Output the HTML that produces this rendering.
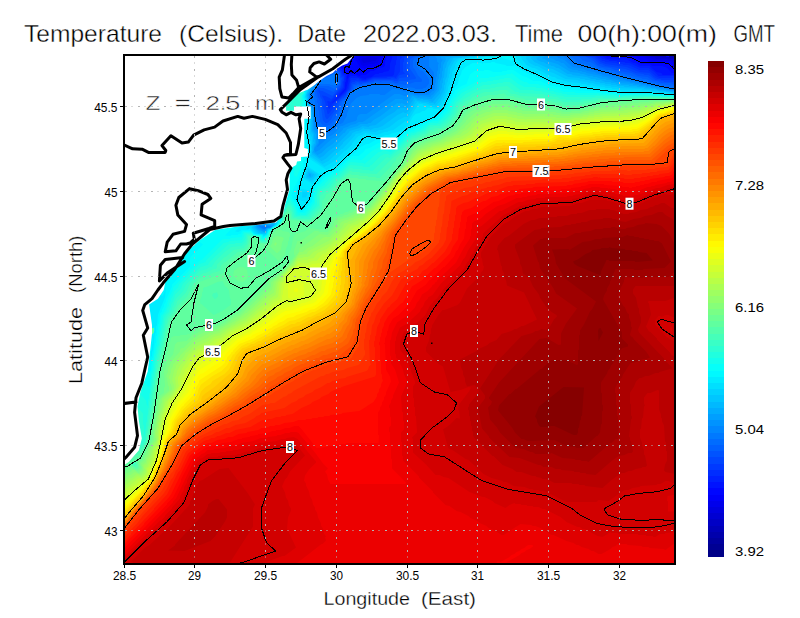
<!DOCTYPE html><html><head><meta charset="utf-8"><style>html,body{margin:0;padding:0;background:#fff}svg{display:block}</style></head><body><svg width="800" height="618" viewBox="0 0 800 618" font-family="Liberation Sans, sans-serif"><rect width="800" height="618" fill="#fff"/><defs><clipPath id="pc"><rect x="125" y="56" width="549" height="507"/></clipPath></defs><g clip-path="url(#pc)"><rect x="123" y="53" width="554" height="513" fill="#0000b9"/><path fill="#0000c6" d="M676.5 566 123.5 566 123 53.5 667.5 53 669.5 58 675.5 58 676 62.5 677 63.5 676.5 566Z"/><path fill="#0000d2" d="M676.5 566 123.5 566 123 53.5 651.5 53 653.5 56 661.5 57 662.5 58 667.5 58 668.5 59 673.5 59 677 63.5 676.5 566ZM668.5 57 666 56.5 667.5 55 669 56.5 668.5 57Z"/><path fill="#0000df" d="M676.5 566 123.5 566 123 53.5 339.5 53 342.5 57 350.5 58 353 55.5 351 53.5 351.5 53 361.5 53 361.5 55 378.5 55 379.5 53 651.5 53 653 55.5 650.5 56 650.5 57 654.5 57 656.5 59 666.5 59 667.5 60 672.5 60 676.5 63 676.5 566ZM668.5 57 666 56.5 667.5 55 669 56.5 668.5 57ZM374 58.5 371 58.5 374 58.5ZM369 59.5 366 59.5 369 59.5Z"/><path fill="#0000ec" d="M676.5 566 123.5 566 123 53.5 339.5 53 342.5 57 349.5 58 350.5 59 353 55.5 351 53.5 351.5 53 361.5 53 361.5 55 378.5 55 379.5 53 651.5 53 653 54.5 652.5 56 643 56.5 648.5 57 654.5 60 665.5 60 666.5 61 671.5 61 675.5 65 676.5 63 676.5 566ZM668.5 57 666 56.5 667.5 55 669 56.5 668.5 57ZM366 62.5 370.5 62 371.5 61 375.5 61 378 57.5 366.5 57 365.5 58 362.5 58 361 59.5 363.5 63 366 62.5Z"/><path fill="#0000f9" d="M676.5 566 123.5 566 123 53.5 339.5 53 342.5 57 349.5 58 349.5 60 352 58.5 352 56.5 353 55.5 351 53.5 351.5 53 361.5 53 361.5 55 378.5 55 379.5 53 651.5 53 653 54.5 652.5 56 637 56.5 643.5 57 652.5 61 664.5 61 665.5 62 670.5 62 675.5 68 676.5 63 676.5 566ZM624 55.5 623 55.5 624 55.5ZM668.5 57 666 56.5 667.5 55 669 56.5 668.5 57ZM366 65.5 369.5 64 374.5 64 375.5 63 377.5 63 381 56.5 361.5 56 359.5 57 358 59.5 360 61.5 361 64.5 363.5 66 366 65.5ZM348 60.5 347 60.5 348 60.5Z"/><path fill="#0006ff" d="M676.5 566 123.5 566 123 53.5 339.5 53 342.5 57 350 58.5 347.5 60 345 62.5 345.5 63 352 59.5 353 57.5 352 56.5 353 55.5 351 53.5 351.5 53 361.5 53 362 53.5 360.5 55 355.5 56 355 58.5 360 67.5 363.5 68 364.5 69 367.5 67 374.5 67 378.5 65 381 62.5 384 55.5 379.5 55 379.5 53 635.5 53 635.5 56 628 56.5 635.5 57 640.5 60 646.5 60 649.5 62 663.5 62 664.5 63 668.5 63 670.5 64 675.5 70 676.5 63 676.5 566ZM652.5 56 647 55.5 648.5 53 651.5 53 653 54.5 652.5 56ZM624 55.5 616 55.5 624 55.5ZM668.5 57 666 56.5 667.5 55 669 56.5 668.5 57ZM344 63.5 343 63.5 344 63.5Z"/><path fill="#0013ff" d="M676.5 566 123.5 566 123 53.5 315.5 53 323.5 63 333.5 68 336.5 68 338.5 66 340.5 67 344 70.5 344 72.5 348 74.5 347 76.5 347.5 79 349.5 74 354.5 74 359.5 76 361.5 75 365.5 75 370.5 71 373.5 71 378.5 68 383.5 67 385 65.5 385 61.5 387 56.5 388.5 55 391.5 55 392.5 53 596.5 53 598.5 55 604.5 55 607.5 57 628.5 58 634.5 61 636.5 61 641.5 64 649.5 64 652.5 66 662.5 66 667.5 68 671.5 73 675.5 73 676 80.5 677 81.5 676.5 566ZM345.5 62 345.5 61 345.5 62ZM344.5 63 344.5 62 344.5 63ZM341.5 65 341.5 64 341.5 65ZM340.5 66 340.5 65 340.5 66Z"/><path fill="#0020ff" d="M676.5 566 123.5 566 123 53.5 315.5 53 323.5 63 333.5 68 336.5 68 337.5 67 338.5 68 339.5 67 343 70.5 343 72.5 347 75.5 346 76.5 346 81.5 345 82.5 345 88.5 340 94.5 340.5 95 346 89.5 349 77.5 350.5 76 356.5 76 357.5 77 365.5 79 366.5 78 371.5 77 375.5 74 378.5 74 379.5 73 382.5 73 383.5 72 388.5 71 390 68.5 390 63.5 392 58.5 392.5 53 596.5 53 598.5 55 600.5 55 607.5 59 627.5 60 633.5 63 635.5 63 640.5 66 649.5 66 656.5 72 661.5 73 662.5 75 675.5 75 676 80.5 677 81.5 676.5 566ZM345.5 62 345.5 61 345.5 62ZM341.5 65 341.5 64 341.5 65ZM338.5 67 338.5 66 338.5 67Z"/><path fill="#002dff" d="M676.5 566 123.5 566 123 53.5 315.5 53 323.5 63 333.5 68 335.5 68 335.5 70 338.5 68 342 71.5 343 74.5 345 75.5 344 87.5 336 98.5 332 102.5 332.5 103 346 91.5 348 87.5 350.5 78 358.5 78 362.5 80 365.5 80 373.5 77 392.5 76 394 74.5 395 65.5 396 64.5 396 60.5 397 59.5 397 55.5 392.5 55 392.5 53 596.5 53 598 54.5 596.5 55 596.5 56 599.5 56 602.5 59 604.5 59 605.5 60 608.5 60 609.5 61 616.5 61 617.5 62 624.5 62 625.5 63 629.5 63 640.5 68 648.5 68 654.5 72 658.5 76 673.5 76 675.5 77 676 80.5 677 81.5 676.5 566ZM341.5 65 341.5 64 341.5 65ZM338.5 67 338.5 66 338.5 67ZM337.5 68 337.5 67 337.5 68Z"/><path fill="#0039ff" d="M676.5 566 123.5 566 123 53.5 315.5 53 323.5 63 333.5 68 335.5 68 336 68.5 333.5 70 333.5 71 338.5 69 341 71.5 342 75.5 344 76.5 344 80.5 343 81.5 343 86.5 342 88.5 330.5 102 328.5 101 327 101.5 328 103.5 328 107.5 329.5 109 332 104.5 346 92.5 349 88.5 350 82.5 351.5 80 355.5 80 357.5 79 361.5 81 365.5 81 373.5 78 386.5 78 387.5 77 394.5 77 395.5 78 400 71.5 400 59.5 402 57.5 401 55.5 408.5 55 409.5 53 596.5 53 598 54.5 597.5 55 591 55.5 595.5 56 602.5 61 604.5 61 605.5 62 616.5 63 617.5 64 622.5 64 623.5 65 628.5 65 639.5 70 648.5 70 655.5 76 659.5 78 673.5 78 675.5 79 677 81.5 676.5 566ZM338.5 67 338.5 66 338.5 67Z"/><path fill="#0046ff" d="M676.5 566 123.5 566 123 53.5 315.5 53 323.5 63 336 68.5 333.5 70 331 72.5 331.5 73 336.5 70 338.5 70 341 73.5 341 76.5 343 77.5 341 87.5 331.5 99 325.5 96 322 95.5 325 101.5 327.5 114 328.5 114 333 108.5 334 104.5 344.5 95 345.5 95 347 91.5 350 89.5 351 83.5 352.5 82 354.5 82 355.5 81 365.5 82 373.5 79 390.5 79 391.5 78 396.5 79 399.5 75 404.5 74 405 73.5 403 71.5 403 62.5 404 61.5 404 58.5 406 55.5 408.5 55 409.5 53 596.5 53 598 54.5 597.5 55 586 55.5 594.5 57 600.5 62 605.5 64 626.5 67 639.5 72 649.5 73 653.5 77 657.5 79 660.5 79 661.5 80 674.5 80 676.5 81 676.5 566ZM338.5 67 338.5 66 338.5 67Z"/><path fill="#0053ff" d="M676.5 566 123.5 566 123 53.5 315.5 53 323.5 63 336 68.5 330.5 72 328 74.5 328.5 75 333.5 72 338.5 71 340 72.5 340 77.5 342 78.5 341 80.5 341 84.5 339 88.5 332.5 96 322.5 91 320.5 91 319.5 90 318 90.5 320 94.5 320 96.5 322 99.5 323 108.5 324 109.5 325 116.5 326.5 119 327.5 119 334 111.5 337 103.5 342.5 98 343.5 98 346 95.5 347 92.5 351 89.5 352.5 84 354.5 84 357.5 82 361.5 84 362.5 83 373.5 81 374.5 80 393.5 80 394.5 81 397.5 81 399.5 78 409.5 77 410 75.5 406 69.5 407 58.5 410 56.5 409 54.5 409.5 53 596.5 53 598 54.5 597.5 55 581 55.5 585.5 56 586.5 57 590.5 57 595.5 60 599.5 64 601.5 64 605.5 66 625.5 69 635.5 73 643.5 74 644.5 75 648.5 75 655.5 80 663.5 81 664.5 82 674.5 82 675.5 83 676.5 81 676.5 566Z"/><path fill="#0060ff" d="M676.5 566 123.5 566 123 53.5 315.5 53 323.5 63 336 68.5 330.5 72 327 75.5 327.5 76 337.5 71 340 75.5 340 84.5 333.5 92 323.5 88 318.5 88 316 91.5 317 92.5 318 97.5 320 100.5 323 120.5 325.5 123 327.5 123 331 119.5 333 115.5 337 111.5 340 101.5 341.5 101 347 95.5 348 92.5 353 88.5 353.5 85 356.5 85 357.5 84 361.5 85 362.5 84 373.5 82 374.5 81 379.5 81 380.5 82 382.5 81 391.5 81 395.5 83 397.5 83 399.5 81 407.5 81 408.5 80 415.5 79 416 77.5 409 67.5 410 66.5 410 59.5 415 55.5 409.5 55 409.5 53 579.5 53 581 54.5 580.5 55 575 55.5 586.5 57 593.5 61 597.5 65 602.5 67 610.5 68 615.5 70 619.5 70 620.5 71 631.5 73 638.5 76 647.5 77 653.5 81 656.5 81 661.5 83 670.5 83 675.5 85 676.5 81 676.5 566Z"/><path fill="#006cff" d="M676.5 566 123.5 566 123 53.5 315.5 53 323.5 63 336 68.5 327.5 74 324 77.5 324.5 78 336.5 72 339 75.5 339 83.5 334.5 89 328.5 86 318.5 86 315 90.5 315 95.5 317 98.5 317 102.5 318 103.5 318 109.5 319 110.5 320 121.5 322 124.5 324.5 126 329.5 125 333 121.5 339 112.5 342 101.5 346 98.5 349 92.5 353.5 90 354.5 87 358.5 85 359.5 86 361.5 86 362.5 85 370.5 84 375.5 82 377.5 82 378.5 83 392.5 83 397.5 85 399.5 84 405.5 85 406.5 84 409.5 84 414.5 82 421.5 82 422 79.5 418 75.5 415 69.5 413 67.5 413 60.5 414.5 58 419 55.5 409.5 55 409.5 53 579.5 53 581 54.5 580.5 55 569 55.5 579.5 57 582.5 60 587.5 62 590.5 62 599.5 68 602.5 68 606.5 70 610.5 70 611.5 71 614.5 71 615.5 72 630.5 75 631.5 76 641.5 78 642.5 79 646.5 79 650.5 82 653.5 82 658.5 84 675.5 86 676.5 81 676.5 566Z"/><path fill="#0079ff" d="M676.5 566 123.5 566 123 53.5 315.5 53 323.5 63 336 68.5 322 78.5 323.5 79 336.5 73 338 75.5 338 82.5 335.5 86 334.5 85 330.5 85 329.5 84 320.5 84 319.5 83 317 87.5 314 90.5 314 99.5 315 100.5 315 104.5 316 105.5 316 116.5 317 117.5 317 121.5 319 126.5 320.5 128 325.5 130 331.5 127 337 120.5 338 117.5 341 113.5 344 102.5 347 98.5 349 93.5 358.5 87 366.5 86 367.5 85 370.5 85 371.5 84 376.5 83 377.5 84 390.5 84 394.5 86 402.5 87 403.5 88 407.5 88 408.5 87 414.5 88 415.5 89 422.5 89 423.5 88 425.5 88 429 83.5 429 79.5 426 74.5 422.5 71 419.5 70 416 65.5 417 58.5 423 55.5 409.5 55 409.5 53 579.5 53 581 54.5 580.5 55 563 55.5 570.5 56 578.5 63 588.5 65 589.5 66 594.5 67 596.5 69 598.5 69 599.5 70 602.5 70 610.5 73 613.5 73 614.5 74 629.5 77 630.5 78 640.5 80 641.5 81 645.5 81 656.5 85 660.5 85 665.5 87 675.5 88 676.5 81 676.5 566ZM266 227.5 263 227.5 266 227.5Z"/><path fill="#0086ff" d="M676.5 566 123.5 566 123 53.5 297.5 53 300 55.5 301 58.5 309 70.5 313 78.5 314 83.5 314.5 84 317.5 81 320 80.5 316 87.5 310 94.5 310 97.5 307 101.5 314 107.5 314 115.5 315 116.5 316 126.5 320 131.5 320 136.5 321.5 138 326.5 133 328.5 133 335.5 128 338.5 124 340.5 124 343 122.5 347 115.5 347 113.5 351 103.5 356.5 98 360.5 96 368.5 95 369.5 94 379.5 94 380.5 95 384.5 95 392.5 89 397.5 89 405.5 92 406.5 91 409.5 91 417.5 94 419.5 94 420.5 93 426.5 93 432.5 89 433 80.5 434 79.5 434 72.5 429 66.5 429 57.5 430 56.5 429 55.5 433.5 55 434.5 53 552.5 53 553 54.5 550.5 55 550.5 56 563.5 56 574.5 65 577.5 65 581.5 67 588.5 68 599.5 72 606.5 73 610.5 75 617.5 76 618.5 77 621.5 77 622.5 78 625.5 78 626.5 79 637.5 81 638.5 82 642.5 82 643.5 83 654.5 85 655.5 86 659.5 86 660.5 87 664.5 87 665.5 88 669.5 88 670.5 89 675.5 90 677 92.5 676.5 566ZM320.5 80 320.5 79 320.5 80ZM305 91.5 306 90.5 305.5 90 304 90.5 304.5 92 305 91.5ZM266 228.5 267 227.5 265.5 226 260 226.5 263.5 229 266 228.5Z"/><path fill="#0093ff" d="M676.5 566 123.5 566 123 53.5 297.5 53 300 55.5 301 58.5 309 70.5 313 78.5 314 83.5 314.5 84 317.5 81 318 81.5 314 88.5 311 91.5 309 96.5 309 99.5 307 101.5 312 105.5 314 110.5 315 126.5 319 134.5 319 143.5 317 146.5 317.5 147 325 140.5 328.5 136 330.5 136 333.5 134 340 127.5 340.5 126 342.5 126 348.5 123 355.5 121 357 119.5 357 117.5 358.5 115 360.5 114 366.5 114 394.5 94 399.5 94 404.5 96 406.5 96 408.5 93 411.5 93 415.5 95 428.5 95 432.5 91 433.5 91 435 88.5 435 83.5 436 82.5 436 77.5 437 76.5 437 71.5 438 70.5 438 64.5 439 63.5 437 61.5 437 58.5 435 56.5 437 55.5 434 54.5 434.5 53 552.5 53 552.5 55 530 55.5 556.5 56 558.5 58 564.5 60 572.5 67 583.5 69 587.5 71 594.5 72 598.5 74 601.5 74 602.5 75 617.5 78 618.5 79 622.5 79 627.5 81 641.5 83 642.5 84 646.5 84 647.5 85 654.5 86 655.5 87 659.5 87 660.5 88 665.5 88 666.5 89 675.5 90 677 92.5 676.5 566ZM305 91.5 306 90.5 305.5 90 304 90.5 304.5 92 305 91.5ZM265 229.5 266.5 228 271 226.5 260.5 226 260.5 224 259 225.5 259.5 227 264.5 230 265 229.5Z"/><path fill="#009fff" d="M676.5 566 123.5 566 123 53.5 297.5 53 300 55.5 301 58.5 309 70.5 315 84.5 309 93.5 309 98.5 307 100.5 307 102.5 311.5 106 313 108.5 314 128.5 317 132.5 317 139.5 318 140.5 318 142.5 314 149.5 315.5 152 319.5 150 331.5 139 335.5 137 343 129.5 343.5 128 347.5 127 350.5 125 355.5 124 358.5 122 362.5 122 364.5 121 395.5 99 402.5 99 403.5 100 406.5 100 410.5 95 417.5 96 418.5 97 420.5 96 430.5 97 431 95.5 433 94.5 437 89.5 438 79.5 439 78.5 439 74.5 440 73.5 440 68.5 441 67.5 441 62.5 443 59.5 441.5 59 440 56.5 445.5 56 445.5 55 444 54.5 444.5 53 552.5 53 552.5 55 510 55.5 550.5 56 551 56.5 549.5 57 549.5 58 553.5 59 556.5 61 558.5 61 561.5 63 563.5 63 568.5 68 573.5 70 577.5 70 578.5 71 581.5 71 582.5 72 585.5 72 586.5 73 601.5 76 602.5 77 605.5 77 610.5 79 618.5 80 619.5 81 629.5 82 630.5 83 634.5 83 635.5 84 640.5 84 641.5 85 645.5 85 646.5 86 650.5 86 651.5 87 655.5 87 656.5 88 660.5 88 661.5 89 666.5 89 667.5 90 672.5 90 673.5 91 675.5 91 677 92.5 676.5 566ZM316.5 83 316.5 82 316.5 83ZM315.5 84 315.5 83 315.5 84ZM305 91.5 306 90.5 305.5 90 304 90.5 304.5 92 305 91.5ZM265 230.5 266.5 228 269.5 228 272 226.5 272 225.5 262.5 225 262 223.5 264 221.5 263.5 221 257 226.5 262.5 230 265 230.5Z"/><path fill="#00acff" d="M676.5 566 123.5 566 123 53.5 297.5 53 300 55.5 301 58.5 309 70.5 314 81.5 314 84.5 308 94.5 309 97.5 307 100.5 307 102.5 309 103.5 312 108.5 312 114.5 313 115.5 313 129.5 316 134.5 316 144.5 314 147.5 314 150.5 313 151.5 317.5 155 321.5 153 326.5 148 332.5 144 343.5 133 344.5 133 347.5 129 357.5 126 360.5 124 367.5 124 368.5 123 370.5 123 373.5 120 380.5 116 397.5 103 398.5 104 399.5 103 400.5 104 401.5 103 406.5 105 412.5 96 416.5 98 431.5 99 439 90.5 440 81.5 442 76.5 442 71.5 443 70.5 443 65.5 446 59.5 445 57.5 455 55.5 444.5 55 444.5 53 552.5 53 552.5 55 490 55.5 544.5 56 544.5 57 542 57.5 542.5 59 544.5 59 547.5 61 557.5 64 570.5 72 579.5 73 580.5 74 583.5 74 588.5 76 592.5 76 593.5 77 596.5 77 601.5 79 605.5 79 606.5 80 610.5 80 615.5 82 619.5 82 620.5 83 632.5 84 633.5 85 638.5 85 639.5 86 645.5 86 646.5 87 650.5 87 651.5 88 655.5 88 656.5 89 668.5 90 669.5 91 674.5 91 676.5 92 676.5 566ZM305 91.5 306 90.5 305.5 90 304 90.5 304.5 92 305 91.5ZM265 231.5 267.5 228 270.5 228 273 225.5 267.5 225 264 223.5 267 218.5 266.5 218 256 226.5 258.5 229 264.5 232 265 231.5Z"/><path fill="#00b9ff" d="M676.5 566 123.5 566 123 53.5 297.5 53 300 55.5 301 58.5 309 70.5 314 81.5 314 83.5 310 88.5 310 90.5 307 95.5 308 96.5 307 102.5 311 107.5 311 111.5 312 112.5 312 130.5 314 133.5 314 138.5 315 139.5 315 143.5 314 144.5 313 151.5 312 152.5 319.5 158 323.5 156 328.5 151 334.5 147 349 132.5 349.5 131 359.5 128 362.5 126 368.5 127 369.5 126 375.5 125 387.5 116 394.5 112 397.5 109 399.5 109 400.5 108 404.5 108 406.5 109 414.5 98 418.5 100 422.5 99 423.5 100 427.5 100 432.5 102 440 93.5 440 91.5 442 87.5 442 83.5 443 82.5 443 78.5 444 77.5 445 68.5 446 67.5 447 62.5 450.5 58 463 55.5 444.5 55 444.5 53 526.5 53 526.5 55 470 55.5 538.5 56 538.5 57 536 57.5 537.5 60 541.5 62 543.5 62 546.5 64 548.5 64 551.5 66 553.5 66 556.5 68 558.5 68 567.5 74 571.5 74 572.5 75 586.5 77 591.5 79 595.5 79 596.5 80 600.5 80 605.5 82 610.5 82 611.5 83 615.5 83 616.5 84 620.5 84 621.5 85 628.5 85 629.5 86 636.5 86 637.5 87 644.5 87 645.5 88 656.5 89 657.5 90 663.5 90 664.5 91 676.5 92 676.5 566ZM305 91.5 306 90.5 305.5 90 304 90.5 304.5 92 305 91.5ZM311 176.5 311 174.5 309.5 173 309 175.5 310.5 177 311 176.5ZM265 232.5 268.5 228 270.5 228 274 225.5 273.5 224 265 223.5 269 217.5 269.5 215 255 226.5 257.5 230 261.5 231 264.5 233 265 232.5Z"/><path fill="#00c6ff" d="M676.5 566 123.5 566 123 53.5 267.5 53 304 89.5 304.5 92 309.5 87 310 87.5 307 93.5 307 97.5 308 98.5 306 100.5 311 110.5 311 131.5 313 134.5 313 141.5 314 142.5 312 146.5 312 154.5 321.5 161 325.5 159 335.5 150 336.5 150 343 143.5 343 142.5 351 135.5 352.5 133 356.5 131 358.5 131 363.5 128 364.5 129 369.5 129 370.5 130 374.5 128 377.5 128 382.5 126 397.5 115 403.5 112 404.5 113 406.5 113 409 110.5 415.5 100 417.5 101 428.5 102 429.5 103 433.5 103 434.5 104 440 97.5 444 89.5 444 85.5 445 84.5 445 80.5 447 76.5 448 67.5 453.5 58 461.5 58 462.5 57 466.5 57 467.5 56 532.5 56 533 56.5 531 57.5 531 58.5 534.5 62 547.5 68 552.5 69 568.5 77 579.5 78 580.5 79 584.5 79 585.5 80 589.5 80 590.5 81 594.5 81 595.5 82 599.5 82 600.5 83 604.5 83 605.5 84 610.5 84 611.5 85 616.5 85 617.5 86 623.5 86 624.5 87 643.5 88 644.5 89 657.5 90 658.5 91 665.5 91 666.5 92 672.5 92 673.5 93 675.5 93 676.5 92 676.5 566ZM526.5 55 458.5 55 458 53.5 526.5 53 526.5 55ZM310.5 87 310.5 86 310.5 87ZM312 177.5 314 174.5 308.5 172 307 176.5 309.5 178 312 177.5ZM266 232.5 267.5 229 269.5 229 275 224.5 274.5 223 267 222.5 270 216.5 272 214.5 272.5 212 254 226.5 254.5 228 259.5 232 261.5 233 266 232.5Z"/><path fill="#00d2ff" d="M676.5 566 123.5 566 123 53.5 267.5 53 304 89.5 304.5 92 308.5 88 309 88.5 306 94.5 306 96.5 307 97.5 306 101.5 308 104.5 308 106.5 310 108.5 310 114.5 311 115.5 311 118.5 310 119.5 311 120.5 310 121.5 310 133.5 312 137.5 312 145.5 311 146.5 312 149.5 311 150.5 311 154.5 310 155.5 322.5 164 328.5 161 341.5 149 342.5 149 355 135.5 355.5 134 360.5 133 363.5 131 375.5 132 379.5 130 382.5 130 389.5 127 398.5 120 404.5 117 407.5 117 414 107.5 415 104.5 417.5 102 419.5 103 420.5 102 421.5 103 425.5 103 430.5 105 434.5 105 435.5 106 440 101.5 445 92.5 447 82.5 448 81.5 448 78.5 449 77.5 449 74.5 450 73.5 450 69.5 454 61.5 458.5 58 468.5 58 469.5 57 475.5 57 476.5 56 526.5 56 526 58.5 529.5 63 535.5 66 537.5 66 546.5 71 553.5 73 565.5 79 577.5 80 578.5 81 587.5 82 588.5 83 593.5 83 594.5 84 604.5 85 605.5 86 610.5 86 611.5 87 617.5 87 618.5 88 641.5 89 642.5 90 650.5 90 651.5 91 658.5 91 659.5 92 667.5 92 668.5 93 675.5 93 676.5 92 676.5 566ZM526.5 55 458.5 55 458 53.5 526.5 53 526.5 55ZM309.5 88 309.5 87 309.5 88ZM313 179.5 316 174.5 308.5 170 306 174.5 306 177.5 310.5 180 313 179.5ZM266 233.5 267 230.5 268.5 229 270.5 229 273.5 227 276 223.5 270.5 223 268 221.5 272 216.5 273 213.5 276 209.5 275.5 209 252 227.5 258.5 233 260.5 233 261.5 234 266 233.5Z"/><path fill="#00dfff" d="M676.5 566 123.5 566 123 53.5 267.5 53 304 89.5 304.5 92 307.5 89 308 89.5 305 96.5 307 99.5 306 101.5 307 102.5 308 107.5 309 108.5 309 112.5 310 113.5 309 134.5 310 135.5 310 140.5 311 141.5 311 144.5 310 145.5 311 146.5 311 150.5 310 151.5 310 155.5 309 156.5 324.5 167 334.5 161 344.5 151 345.5 151 352 144.5 352 143.5 358.5 136 362.5 135 365.5 133 376.5 135 384.5 132 387.5 132 388.5 131 393.5 130 405.5 121 406.5 122 409 119.5 418.5 104 422.5 104 423.5 105 431.5 106 432.5 107 437.5 108 441 104.5 446 95.5 446 93.5 448 90.5 448 87.5 450 83.5 450 80.5 452 76.5 452 72.5 455 67.5 455 65.5 457 61.5 460.5 59 464.5 59 465.5 58 474.5 58 475.5 57 484.5 57 485.5 56 520.5 56 522 59.5 526.5 65 532.5 68 534.5 68 552.5 77 554.5 77 557.5 79 562.5 80 563.5 81 566.5 81 567.5 82 580.5 83 581.5 84 586.5 84 587.5 85 592.5 85 593.5 86 604.5 87 605.5 88 611.5 88 612.5 89 618.5 89 619.5 90 651.5 91 652.5 92 669.5 93 670.5 94 675.5 94 676.5 92 676.5 566ZM526.5 55 458.5 55 458 53.5 526.5 53 526.5 55ZM313 181.5 318 174.5 313.5 171 307.5 168 304 177.5 311.5 182 313 181.5ZM306 197.5 308 192.5 302.5 192 302 197.5 306 197.5ZM265 234.5 267 232.5 268.5 229 270.5 229 277 223.5 276.5 222 270.5 222 270 220.5 280 205.5 279.5 205 275.5 209 270.5 212 266.5 216 251 227.5 256.5 233 258.5 234 265 234.5Z"/><path fill="#00ecff" d="M676.5 566 123.5 566 123 53.5 267.5 53 304 89.5 304 91.5 306 91.5 305 97.5 306 98.5 306 102.5 307 103.5 308 110.5 309 111.5 309 122.5 308 123.5 308 136.5 309 137.5 309 142.5 310 143.5 309 158.5 326.5 170 335.5 165 356 145.5 359 140.5 362.5 137 366.5 135 368.5 136 373.5 136 374.5 137 381.5 137 385.5 135 388.5 135 392.5 133 398.5 132 408 125.5 413 116.5 415.5 114 419.5 113 422.5 111 424.5 111 427.5 108 432.5 108 433.5 109 437.5 109 439.5 110 444 104.5 447 98.5 447 96.5 450 91.5 450 88.5 453 81.5 453 78.5 454 77.5 455 72.5 457 69.5 457 67.5 459 63.5 464.5 59 481.5 58 482.5 57 491.5 57 492.5 56 515.5 56 517 59.5 523.5 67 529.5 70 531.5 70 536.5 73 538.5 73 551.5 80 556.5 81 560.5 83 563.5 83 564.5 84 584.5 86 585.5 87 590.5 87 591.5 88 604.5 89 605.5 90 620.5 91 621.5 92 651.5 92 652.5 93 673.5 94 674.5 95 676 94.5 676.5 92 676.5 566ZM526.5 55 458.5 55 458 53.5 526.5 53 526.5 55ZM306.5 91 306.5 90 306.5 91ZM236 178.5 239 173.5 232.5 166 234 176.5 235 178.5 236 178.5ZM314 183.5 320 174.5 307.5 166 306 167.5 303 178.5 312.5 184 314 183.5ZM307 200.5 309 198.5 310 190.5 301.5 189 300 190.5 300 193.5 299 194.5 299 199.5 301.5 201 307 200.5ZM265 235.5 267 233.5 268 230.5 271.5 229 272.5 227 275.5 226 278 222.5 277.5 221 272.5 221 272 219.5 280 207.5 281 204.5 283 202.5 282.5 202 256.5 223 246 228.5 248.5 229 249.5 228 255.5 234 262.5 234 263.5 236 265 235.5Z"/><path fill="#00f9ff" d="M676.5 566 123.5 566 123 372.5 125.5 371 128.5 371 135.5 368 137.5 368 147 363.5 148 355.5 150 350.5 150 346.5 151 345.5 152.5 337 153 343.5 152 344.5 152 349.5 151 350.5 151 356.5 152 356.5 152 351.5 153 350.5 155 333.5 156 332.5 156 326.5 157 325.5 158 314.5 165 297.5 166 287.5 165 287.5 164 293.5 162.5 296 123 277.5 123 53.5 267.5 53 304 89.5 304 91.5 305 92.5 304 97.5 306 100.5 306 104.5 307 105.5 307 110.5 306 111.5 307 113.5 306 139.5 307 140.5 307 144.5 308 145.5 308 151.5 307 152.5 307 156.5 306 157.5 306 164.5 297 188.5 296 196.5 295 197.5 296 200.5 298 202.5 298 204.5 300 208.5 301.5 210 303 209.5 303 208.5 310 200.5 313 187.5 317 181.5 318.5 181 319 179.5 327.5 172 334.5 170 350.5 154 354.5 153 360.5 147 366.5 144 368.5 144 375.5 140 380.5 140 385.5 143 389.5 144 409.5 128 411.5 128 425.5 121 427.5 121 432.5 118 434.5 118 445 107.5 447 103.5 447 101.5 452 92.5 453 88.5 456.5 86 458 83.5 459 77.5 461 74.5 462 70.5 465.5 67 472.5 63 481.5 63 482.5 64 483.5 63 490.5 63 491.5 62 494.5 62 495.5 63 505.5 65 506.5 66 513.5 66 514.5 65 519.5 69 531.5 75 533.5 75 538.5 78 541.5 78 550.5 83 560.5 85 561.5 86 564.5 86 565.5 87 582.5 88 583.5 89 598.5 90 599.5 91 607.5 91 608.5 92 616.5 92 617.5 93 654.5 93 655.5 94 675.5 95 677 97.5 676.5 566ZM509.5 55 504.5 55 504 53.5 509.5 53 509.5 55ZM512.5 61 502.5 58 502 56.5 511.5 56 513 59.5 512.5 61ZM305.5 92 305.5 91 305.5 92ZM218 200.5 236 178.5 239 173.5 231 164.5 229 160.5 222.5 154 188.5 129 189 132.5 191 135.5 191 137.5 197 150.5 197 152.5 203 165.5 203 167.5 209 180.5 209 182.5 215 195.5 215 197.5 217.5 201 218 200.5ZM264 236.5 267 234.5 269.5 230 274.5 227 278 223.5 278.5 221 273.5 221 273 219.5 283 204.5 284 201.5 286 199.5 285.5 199 272.5 210 266.5 213 264.5 215 257.5 218 255.5 220 252.5 221 250 219.5 249.5 217 235 231.5 238.5 232 241.5 230 248.5 230 249.5 229 254.5 234 262.5 235 263.5 237 264 236.5ZM167 284.5 166.5 283 166 284.5 167 284.5ZM155.5 325 155.5 323 155.5 325ZM153.5 337 153 334.5 149 330.5 154.5 327 155 330.5 154 331.5 153.5 337Z"/><path fill="#06fff9" d="M676.5 566 123.5 566 123 372.5 125.5 371 128.5 371 135.5 368 137.5 368 140.5 366 142.5 366 146.5 364 149.5 351 150 355.5 149 356.5 149 361.5 148 362.5 148 369.5 149.5 372 151 370.5 152 358.5 153 357.5 155 343.5 156 342.5 156 336.5 157 335.5 157 330.5 158 329.5 158 324.5 159 323.5 160 313.5 162 311.5 162 309.5 164 306.5 164 304.5 166 301.5 166 299.5 172 286.5 172 284.5 190 266.5 190 258.5 191 256.5 203 244.5 190 234.5 190 232.5 191 231.5 190 225.5 188 222.5 187 217.5 182 206.5 181 201.5 177 193.5 176 188.5 174 185.5 173 180.5 171 177.5 170 172.5 168 169.5 164 156.5 160 148.5 159 143.5 157 140.5 156 135.5 154 132.5 153 127.5 151 124.5 150 119.5 148 116.5 147 111.5 143 103.5 143 101.5 123 85.5 123 53.5 267.5 53 304 89.5 304 91.5 305 92.5 303 95.5 303 97.5 305 100.5 304 130.5 303 131.5 303 143.5 304 144.5 304 148.5 305 149.5 304 150.5 304 154.5 303 155.5 303 167.5 301 170.5 299 178.5 293 189.5 293 191.5 291 195.5 296 202.5 298 206.5 298 208.5 300.5 212 302.5 212 312 201.5 313 192.5 317 184.5 319.5 183 325.5 176 332.5 172 334.5 172 351.5 156 358.5 156 364 151.5 365.5 149 369.5 148 378.5 143 383.5 144 389.5 147 409.5 130 413.5 129 416.5 127 418.5 127 424.5 123 428.5 122 431.5 120 435.5 120 446 109.5 452 96.5 455 92.5 455 90.5 461.5 86 466.5 84 470 74.5 474.5 71 483.5 71 484.5 70 488.5 70 493.5 72 501.5 72 502.5 71 506.5 71 507.5 70 513.5 70 522.5 76 526.5 77 533.5 81 540.5 81 550.5 86 554.5 86 555.5 87 558.5 87 563.5 89 567.5 89 568.5 90 596.5 91 597.5 92 604.5 92 605.5 93 616.5 93 617.5 94 658.5 94 659.5 95 672.5 95 673.5 96 675.5 96 677 97.5 676.5 566ZM509.5 55 504.5 55 504 53.5 509.5 53 509.5 55ZM507.5 57 506 56.5 507.5 56 507.5 57ZM218 200.5 236 178.5 239 173.5 231 164.5 229 160.5 222.5 154 188.5 129 189 132.5 191 135.5 191 137.5 197 150.5 197 152.5 203 165.5 203 167.5 209 180.5 209 182.5 215 195.5 215 197.5 217.5 201 218 200.5ZM263 237.5 266.5 236 269 230.5 273.5 227 276.5 226 279 222.5 280 220.5 275.5 220 275 218.5 283 206.5 287 198.5 289 196.5 288.5 196 280.5 202 272 197.5 271.5 188 225 235.5 230.5 236 231.5 235 237.5 235 238.5 234 240.5 234 242.5 231 250.5 231 254.5 235 261.5 235 262 237.5 263 237.5ZM154.5 328 154.5 327 154.5 328ZM152.5 334 149 330.5 153.5 328 154 331.5 152.5 334ZM151.5 343 151.5 342 151.5 343ZM150.5 350 150.5 346 150.5 350Z"/><path fill="#13ffec" d="M234.5 212 225.5 205 221.5 203 219 199.5 246 165.5 241.5 163 239.5 163 226.5 158 222.5 154 189.5 130 183.5 124 168.5 116 166.5 114 161.5 112 159.5 110 152.5 107 150.5 105 145.5 103 134.5 95 125.5 87 124.5 87 123 85.5 123.5 53 267.5 53 304 89.5 304 93.5 302 96.5 304 100.5 304 108.5 303 109.5 302 132.5 301 133.5 300 169.5 297 176.5 296.5 177 294 175.5 294.5 157 277.5 175 276.5 175 269.5 182 268.5 182 261.5 189 260.5 189 244.5 204 243.5 204 234.5 212ZM676.5 566 123.5 566 123 372.5 125.5 371 128.5 371 135.5 368 137.5 368 140.5 366 142.5 366 146.5 364 147 367.5 146 368.5 145 380.5 144 381.5 146 384.5 148.5 387 149 386.5 150 384.5 150 379.5 151 378.5 151 372.5 152 371.5 153 360.5 154 359.5 154 354.5 155 353.5 156 346.5 157 345.5 157 340.5 158 339.5 158 334.5 159 333.5 159 327.5 160 326.5 161 315.5 163 313.5 166 307.5 169 297.5 173 289.5 173 287.5 190.5 269 191.5 269 200.5 260 201.5 260 221.5 240 223.5 239 229.5 239 230.5 238 241.5 237 243.5 232 249.5 232 250.5 231 253.5 235 261.5 235 262.5 239 268 234.5 269 231.5 271.5 230 272.5 228 275.5 227 279 223.5 280 219.5 276 218.5 278 216.5 279 213.5 281 211.5 282 208.5 286 203.5 289.5 197 294 202.5 298 212.5 304.5 213 309 208.5 314 201.5 314 194.5 315 193.5 315 190.5 317 187.5 330.5 175 336.5 173 348.5 161 351.5 159 361.5 160 371.5 151 379.5 147 384.5 147 389.5 150 409.5 132 413.5 131 416.5 129 418.5 129 429.5 122 431.5 122 432.5 121 437.5 121 448 110.5 452 100.5 454 97.5 456 96.5 457 93.5 460.5 90 477.5 81 479.5 78 488.5 78 489.5 77 494.5 77 495.5 76 505.5 75 506.5 74 510.5 74 511.5 73 520.5 80 524.5 82 526.5 82 529.5 84 538.5 84 539.5 85 545.5 86 548.5 88 556.5 89 564.5 92 574.5 92 575.5 93 601.5 93 602.5 94 616.5 94 617.5 95 648.5 94 649.5 95 675.5 96 677 97.5 676.5 566ZM271 133.5 285 116.5 287 113.5 286.5 113 278.5 113 277.5 114 259.5 115 258.5 116 250.5 116 249.5 117 231.5 118 230.5 119 222.5 119 221.5 120 213.5 120 212.5 121 203.5 121 202.5 122 194.5 122 193.5 123 185 123.5 192.5 124 193.5 125 200.5 125 201.5 126 209.5 126 210.5 127 217.5 127 218.5 128 225.5 128 226.5 129 242.5 130 243.5 131 250.5 131 251.5 132 267.5 133 268.5 134 271 133.5ZM154.5 328 154.5 327 154.5 328ZM152.5 334 149 330.5 153.5 328 154 331.5 152.5 334ZM148.5 356 148.5 355 148.5 356ZM147.5 362 147.5 360 147.5 362Z"/><path fill="#20ffdf" d="M257.5 173 246 165.5 258 149.5 270 135.5 273 130.5 285 116.5 287 113.5 286.5 113 278.5 113 277.5 114 269.5 114 268.5 115 259.5 115 258.5 116 250.5 116 249.5 117 241.5 117 240.5 118 231.5 118 230.5 119 213.5 120 212.5 121 203.5 121 202.5 122 194.5 122 193.5 123 181.5 123 175.5 120 173.5 118 168.5 116 166.5 114 161.5 112 159.5 110 145.5 103 123 85.5 123 53.5 267.5 53 304 89.5 304 92.5 302 94.5 302 99.5 303 100.5 303 102.5 302 103.5 302 113.5 301 114.5 301 127.5 300 128.5 300 135.5 298.5 136 274.5 158 273.5 158 266.5 165 265.5 165 257.5 173ZM676.5 566 123.5 566 123 416.5 131.5 415 136 412.5 141.5 387 142 392.5 141 394.5 146 400.5 147 405.5 148 405.5 148 399.5 149 398.5 149 393.5 150 392.5 150 386.5 151 385.5 151 380.5 152 379.5 152 374.5 153 373.5 155 356.5 156 355.5 157 348.5 159 343.5 159 337.5 160 336.5 160 331.5 161 330.5 161 325.5 162 324.5 163 315.5 167 310.5 167 308.5 169 305.5 169 303.5 171 300.5 171 298.5 173 295.5 174 291.5 178 287.5 179 284.5 199.5 264 205.5 262 206 260.5 223.5 243 228.5 242 229.5 241 241.5 240 244 236.5 244.5 233 251.5 233 253.5 235 260.5 236 261.5 239 263.5 239 266.5 237 272 228.5 277.5 226 281 221.5 281 219.5 278.5 219 278 217.5 289.5 199 295 207.5 297 214.5 299.5 215 300.5 214 301.5 215 305.5 215 315 203.5 315 196.5 316 195.5 317 190.5 320.5 187 324.5 185 325 183.5 331.5 177 334.5 175 336.5 175 340.5 171 341.5 171 350.5 162 363.5 163 364.5 164 378.5 152 380.5 152 383.5 150 390.5 152 411.5 133 413.5 133 424.5 128 430.5 123 437.5 123 449 112.5 454 101.5 461.5 93 471.5 88 478.5 83 480.5 83 481.5 82 486.5 82 487.5 81 492.5 81 493.5 80 498.5 80 499.5 79 503.5 79 504.5 78 510.5 78 518.5 84 524.5 87 535.5 87 536.5 88 542.5 88 549.5 91 553.5 91 554.5 92 561.5 93 562.5 94 566.5 94 567.5 95 596.5 95 597.5 94 599.5 95 615.5 95 616.5 96 624.5 96 625.5 95 653.5 95 654.5 96 672.5 96 673.5 97 676.5 97 676.5 566ZM154.5 328 154.5 327 154.5 328ZM152.5 334 149 330.5 153.5 328 154 331.5 152.5 334ZM142.5 387 142 385.5 136.5 381 124.5 375 123 372.5 125.5 371 128.5 371 135.5 368 137.5 368 145.5 364 146 368.5 145 369.5 145 373.5 144 374.5 142.5 387Z"/><path fill="#2dffd2" d="M279.5 134 275.5 132 274 129.5 285 116.5 287 113.5 286.5 113 278.5 113 277.5 114 269.5 114 268.5 115 259.5 115 258.5 116 250.5 116 249.5 117 241.5 117 240.5 118 231.5 118 230.5 119 213.5 120 212.5 121 203.5 121 202.5 122 194.5 122 193.5 123 181.5 123 175.5 120 173.5 118 161.5 112 159.5 110 145.5 103 123 85.5 123 53.5 267.5 53 304 89.5 304 92.5 301 95.5 300 115.5 279.5 134ZM676.5 566 123.5 566 123 416.5 134.5 414 136 412.5 137.5 405 138 407.5 143 413.5 143 424.5 144 425.5 144 435.5 145 435.5 145 429.5 146 428.5 146 422.5 147 421.5 147 415.5 148 414.5 148 408.5 149 407.5 149 401.5 150 400.5 150 394.5 151 393.5 151 388.5 152 387.5 152 382.5 153 381.5 153 376.5 154 375.5 156 358.5 157 357.5 157 354.5 158 353.5 159 346.5 160 345.5 160 341.5 161 340.5 161 335.5 162 334.5 162 328.5 163 327.5 164 318.5 166 314.5 169 311.5 169 309.5 171 306.5 171 304.5 173 301.5 175 294.5 181 288.5 183 283.5 192.5 274 193.5 274 200.5 267 207.5 265 210 261.5 227.5 245 229.5 244 234.5 244 235.5 243 241.5 243 245 239.5 246.5 234 251.5 234 253.5 236 254.5 235 256.5 236 260.5 236 261 239.5 263.5 241 264 239.5 268 236.5 269 232.5 271.5 231 273.5 228 276.5 227 280 223.5 282 220.5 282 218.5 279 217.5 286 207.5 287 204.5 289.5 202 294 209.5 295 214.5 296.5 216 306.5 216 316 206.5 317 204.5 317 194.5 319 190.5 325.5 187 333.5 178 338.5 176 347.5 167 350.5 165 362.5 166 363.5 167 369.5 167 370 165.5 371.5 165 380.5 156 384.5 154 388.5 154 389.5 155 391.5 154 411.5 135 413.5 135 418.5 132 420.5 132 424.5 130 429.5 125 436.5 125 437.5 124 439.5 124 443.5 121 450 114.5 456 102.5 465.5 94 483.5 85 490.5 85 491.5 84 496.5 84 497.5 83 502.5 83 503.5 82 509.5 82 520.5 90 533.5 90 534.5 91 541.5 91 542.5 92 550.5 93 551.5 94 555.5 94 556.5 95 563.5 96 564.5 97 594.5 97 595.5 96 605.5 96 606.5 97 607.5 96 608.5 97 609.5 96 610.5 97 611.5 96 612.5 97 613.5 96 614.5 97 615.5 96 616.5 97 621.5 97 622.5 96 660.5 96 661.5 97 676.5 97 676.5 566ZM154.5 328 154.5 327 154.5 328ZM152.5 334 149 330.5 153.5 328 154 331.5 152.5 334ZM141.5 385 131.5 378 124.5 375 123 372.5 125.5 371 128.5 371 135.5 368 137.5 368 145.5 364 146 368.5 145 369.5 144 377.5 143 378.5 143 381.5 141.5 385ZM140.5 393 140.5 392 140.5 393ZM139.5 399 139.5 396 139.5 399ZM138.5 405 138.5 401 138.5 405Z"/><path fill="#39ffc6" d="M676.5 566 123.5 566 123 444.5 129 444.5 133 425.5 128.5 422 123.5 420 123 416.5 136 413.5 135 420.5 139 425.5 139 439.5 140 440.5 140 444.5 141.5 445 144 442.5 146 437.5 146 431.5 147 430.5 149 410.5 150 409.5 150 404.5 151 403.5 152 390.5 153 389.5 153 384.5 154 383.5 154 378.5 155 377.5 155 372.5 156 371.5 156 365.5 157 364.5 157 360.5 158 359.5 160 348.5 161 347.5 161 343.5 162 342.5 162 338.5 163 337.5 163 332.5 164 331.5 165 321.5 167 316.5 172 309.5 172 307.5 174 304.5 174 302.5 176 298.5 183 291.5 186 284.5 199.5 271 206.5 269 209.5 267 211.5 267 215 261.5 224.5 252 231.5 247 241.5 246 246 241.5 247.5 235 259.5 236 260 240.5 264.5 241 265 239.5 269 236.5 270 231.5 271.5 231 273.5 228 278.5 226 282 221.5 283 217.5 281 216.5 288.5 205 289.5 205 292 208.5 294.5 217 300.5 217 301.5 218 308.5 217 319 205.5 319 193.5 325.5 189 328.5 188 336.5 178 338.5 178 341.5 176 349.5 168 352.5 168 353.5 169 361.5 169 362.5 170 369.5 170 370.5 171 372.5 171 385.5 158 387.5 157 389.5 158 397.5 151 398.5 151 400 148.5 411.5 137 424.5 132 430.5 127 432.5 127 433.5 126 439.5 126 445.5 122 453 113.5 457 104.5 459.5 102 461.5 102 463.5 99 469.5 96 471.5 94 482.5 89 489.5 89 490.5 88 494.5 88 495.5 87 507.5 86 515.5 92 518.5 92 519.5 93 542.5 94 547.5 96 552.5 96 553.5 97 557.5 97 561.5 99 565.5 99 566.5 100 580.5 100 581.5 99 591.5 99 592.5 98 599.5 98 600.5 97 602.5 97 603.5 98 618.5 98 619.5 97 620.5 98 621.5 97 671.5 97 672.5 98 675.5 98 676.5 97 676.5 566ZM154.5 328 154.5 327 154.5 328ZM152.5 334 149 330.5 153.5 328 154 331.5 152.5 334ZM141.5 385 131.5 378 124.5 375 123 372.5 125.5 371 128.5 371 135.5 368 137.5 368 145.5 364 146 368.5 145 369.5 144 377.5 143 378.5 143 381.5 141.5 385ZM136.5 411 136.5 410 136.5 411Z"/><path fill="#46ffb9" d="M676.5 566 123.5 566 123 444.5 129 444.5 131.5 432 133 435.5 135 437.5 135.5 451 139.5 450 144 445.5 146 441.5 147 433.5 148 432.5 148 426.5 149 425.5 149 419.5 150 418.5 150 412.5 151 411.5 151 406.5 152 405.5 153 392.5 154 391.5 154 386.5 155 385.5 155 379.5 156 378.5 156 373.5 157 372.5 157 367.5 158 366.5 158 362.5 159 361.5 162 346.5 163 345.5 166 324.5 167 323.5 168 318.5 174 310.5 174 308.5 176 305.5 177 301.5 186 292.5 190 283.5 194.5 279 203.5 273 205.5 273 213.5 269 215.5 269 217 267.5 217 264.5 224.5 257 225.5 257 233.5 250 243.5 248 247 243.5 248.5 236 251.5 236 252.5 237 253.5 236 256.5 236 257.5 237 259.5 237 260 240.5 261.5 242 265.5 242 266 239.5 269 237.5 270 232.5 272 229.5 277.5 227 283 220.5 284 217.5 282 216.5 288.5 207 292 212.5 292 215.5 293.5 218 296.5 218 297.5 219 309.5 219 320 207.5 320 195.5 326.5 191 329.5 190 337.5 180 340.5 179 349.5 171 351.5 171 352.5 172 359.5 172 360.5 173 376.5 174 392.5 158 399.5 153 410.5 140 413.5 138 415.5 138 423.5 134 425.5 134 429.5 130 431.5 130 435.5 128 440.5 128 446.5 124 452 118.5 452 117.5 455 114.5 459.5 105 462.5 104 465.5 101 470.5 99 472.5 97 484.5 92 493.5 92 494.5 91 498.5 91 499.5 90 506.5 90 511.5 94 515.5 94 520.5 96 542.5 97 543.5 98 548.5 98 549.5 99 555.5 99 563.5 102 582.5 102 583.5 101 597.5 100 598.5 99 616.5 99 617.5 98 618.5 99 619.5 98 642.5 98 643.5 97 650.5 97 651.5 98 675.5 98 676.5 97 676.5 566ZM154.5 328 154.5 327 154.5 328ZM152.5 334 149 330.5 153.5 328 154 331.5 152.5 334ZM141.5 385 131.5 378 124.5 375 123 372.5 125.5 371 128.5 371 135.5 368 137.5 368 145.5 364 146 368.5 145 369.5 144 377.5 143 378.5 143 381.5 141.5 385ZM135.5 414 135.5 413 135.5 414ZM132.5 425 128.5 422 123.5 420 123 416.5 134.5 414 135 418.5 134 419.5 134 423.5 132.5 425ZM132.5 430 132.5 428 132.5 430ZM135 464.5 134.5 462 133 463.5 134.5 465 135 464.5Z"/><path fill="#53ffac" d="M676.5 566 123.5 566 123 444.5 124.5 444 125.5 445 129 445.5 131 449.5 131 456.5 132.5 457 138.5 454 142 450.5 147 441.5 148 434.5 149 433.5 149 428.5 150 427.5 150 421.5 151 420.5 152 409.5 153 408.5 153 402.5 154 401.5 156 381.5 157 380.5 157 375.5 158 374.5 158 368.5 159 367.5 159 364.5 160 363.5 160 360.5 161 359.5 161 356.5 163 351.5 163 348.5 164 347.5 164 343.5 166 338.5 166 333.5 167 332.5 168 323.5 170 318.5 175 312.5 178 305.5 187 296.5 193 284.5 198.5 279 202.5 277 204.5 277 207.5 275 209.5 275 212.5 273 219.5 271 221 265.5 224.5 262 225.5 262 237.5 252 243.5 251 247 247.5 250.5 237 253.5 237 254.5 236 258.5 237 259.5 242 261.5 243 265.5 243 267 241.5 272 230.5 274.5 228 279.5 226 283 221.5 285 217.5 284 215.5 287.5 210 289 210.5 291 214.5 291.5 219 301.5 220 302.5 221 310.5 220 313.5 217 314.5 217 322 208.5 322 201.5 325 197.5 326 194.5 330.5 192 334 188.5 337 183.5 339.5 181 343.5 179 348.5 174 350.5 174 351.5 175 358.5 175 359.5 176 367.5 176 368.5 177 375.5 177 376.5 178 379.5 178 392 165.5 392 164.5 396 160.5 396 158.5 404 151.5 406 147.5 413.5 140 415.5 140 418.5 138 425.5 136 428.5 133 436.5 131 438.5 129 442.5 129 448.5 125 453 120.5 453 119.5 456 116.5 460.5 107 467.5 104 469.5 102 477.5 98 479.5 98 483.5 96 486.5 96 487.5 95 497.5 95 498.5 94 502.5 94 503.5 93 507.5 96 513.5 96 514.5 97 524.5 99 525.5 100 543.5 100 544.5 101 551.5 101 552.5 102 560.5 103 564.5 105 578.5 105 579.5 104 583.5 104 584.5 103 595.5 102 600.5 100 636.5 99 637.5 98 671.5 98 672.5 99 675.5 99 676.5 97 676.5 566ZM216 298.5 218 296.5 218 294.5 216.5 292 215.5 293 213.5 293 212 295.5 214.5 299 216 298.5ZM154.5 328 154.5 327 154.5 328ZM152.5 334 149 330.5 153.5 328 154 331.5 152.5 334ZM141.5 385 131.5 378 124.5 375 123 372.5 125.5 371 128.5 371 135.5 368 137.5 368 145.5 364 146 368.5 145 369.5 144 377.5 143 378.5 143 381.5 141.5 385ZM135.5 414 135.5 413 135.5 414ZM132.5 425 128.5 422 123.5 420 123 416.5 134.5 414 135 418.5 132.5 425ZM136 465.5 137 464.5 135.5 462 132 463.5 132.5 465 134.5 466 136 465.5Z"/><path fill="#60ff9f" d="M676.5 566 123.5 566 123 444.5 124.5 444 125.5 445 129 445.5 128 446.5 128 450.5 126 455.5 126 462.5 127.5 463 136.5 459 144 450.5 148 442.5 148 440.5 149 439.5 149 434.5 150 433.5 150 429.5 151 428.5 151 423.5 152 422.5 152 417.5 153 416.5 153 411.5 154 410.5 154 404.5 155 403.5 157 383.5 158 382.5 158 377.5 159 376.5 159 370.5 160 369.5 160 366.5 161 365.5 161 362.5 162 361.5 162 358.5 164 353.5 164 349.5 165 348.5 166 341.5 167 340.5 169 326.5 170 325.5 171 320.5 178 311.5 179 308.5 190 297.5 196 285.5 199.5 282 223.5 273 225 267.5 230.5 262 241.5 254 243.5 254 248 249.5 249 245.5 251 242.5 251 238.5 252.5 237 254.5 236 255.5 237 257.5 237 259 238.5 259.5 243 266.5 244 268 242.5 268 240.5 270 237.5 272 230.5 273.5 229 278.5 227 282 223.5 285 219.5 286 214.5 287.5 213 289 213.5 289 217.5 290.5 220 300.5 221 301.5 222 311.5 222 321 213.5 324 208.5 325 204.5 330 198.5 332 193.5 336 190.5 339 184.5 348.5 177 350.5 178 357.5 178 358.5 179 365.5 179 366.5 180 383.5 181 399 163.5 401 160.5 402 156.5 405 153.5 406 150.5 413.5 142 417.5 141 420.5 139 422.5 139 427.5 136 438.5 133 440.5 131 442.5 131 446.5 128 449.5 127 457 118.5 461 110.5 463.5 108 467.5 107 476.5 102 478.5 102 482.5 100 485.5 100 489.5 98 503.5 98 504.5 99 513.5 99 521.5 102 524.5 102 525.5 103 545.5 103 546.5 104 554.5 104 555.5 105 558.5 105 562.5 107 567.5 107 568.5 108 569.5 107 579.5 107 580.5 106 594.5 104 599.5 102 605.5 102 606.5 101 632.5 100 633.5 99 675.5 99 676.5 97 676.5 566ZM215 314.5 222.5 311 231 304.5 231 299.5 230 298.5 229 290.5 226.5 287 225 286.5 222.5 281 217.5 282 206.5 287 204.5 287 203 288.5 203 291.5 202 292.5 202 295.5 200 300.5 200.5 304 201.5 304 213.5 315 215 314.5ZM154.5 328 154.5 327 154.5 328ZM152.5 334 149 330.5 153.5 328 154 331.5 152.5 334ZM141.5 385 131.5 378 124.5 375 123 372.5 125.5 371 128.5 371 135.5 368 137.5 368 145.5 364 146 368.5 145 369.5 144 377.5 143 378.5 143 381.5 141.5 385ZM135.5 414 135.5 413 135.5 414ZM132.5 425 128.5 422 123.5 420 123 416.5 134.5 414 135 418.5 132.5 425ZM137 467.5 138 466.5 138 464.5 136.5 461 130 464.5 136.5 468 137 467.5Z"/><path fill="#6cff93" d="M676.5 566 123.5 566 123 481.5 124 480.5 124 468.5 129.5 466 131.5 466 135.5 469 137.5 469 139 467.5 138 460.5 142 457.5 150 441.5 151 430.5 152 429.5 152 425.5 153 424.5 153 420.5 154 419.5 154 414.5 155 413.5 156 401.5 157 400.5 157 396.5 159 394.5 159 389.5 160 388.5 161 371.5 162 370.5 164 360.5 166 358.5 166 356.5 167 355.5 167 352.5 168 351.5 169 343.5 170 342.5 171 337.5 174.5 336 179.5 336 180.5 335 186.5 335 187.5 334 189.5 334 197.5 328 214.5 325 224.5 320 232.5 314 235.5 313 242.5 306 244 305.5 267 282.5 267 281.5 270.5 278 281.5 271 289 262.5 290 260.5 289 253.5 291 249.5 293 238.5 295.5 234 305.5 231 309.5 228 325.5 230 331 223.5 332 218.5 333.5 217 337.5 216 340.5 214 342.5 214 345.5 212 347.5 212 350.5 210 352.5 210 355.5 208 357.5 208 358.5 207 359.5 208 361.5 208 365.5 206 374 197.5 374 196.5 387 182.5 395 171.5 401 165.5 408 151.5 414.5 144 418.5 142 420.5 142 425.5 139 441.5 134 443.5 132 453.5 127 461 116.5 470.5 108 474.5 107 477.5 105 480.5 105 487.5 102 490.5 102 491.5 101 509.5 101 510.5 102 525.5 105 526.5 106 550.5 106 551.5 107 555.5 107 560.5 109 563.5 109 564.5 110 571.5 110 572.5 109 580.5 109 581.5 108 584.5 108 589.5 106 593.5 106 598.5 104 602.5 104 603.5 103 612.5 103 613.5 102 622.5 102 623.5 101 638.5 101 639.5 100 675.5 100 677 102.5 676.5 566ZM278.5 261 266 248.5 266 247.5 270 241.5 272 234.5 276.5 230 281.5 230 282.5 231 288.5 232 290 233.5 290 236.5 289 237.5 289 240.5 288 241.5 288 244.5 286 248.5 285 254.5 278.5 261ZM242.5 282 236.5 280 233 275.5 234 270.5 238.5 267 243.5 267 247 269.5 248 276.5 246.5 279 242.5 282Z"/><path fill="#79ff86" d="M676.5 566 123.5 566 123 481.5 124 480.5 124 471.5 131.5 468 137.5 471 141 467.5 139 462.5 143 459.5 146 451.5 150 443.5 152 441.5 152 438.5 153 437.5 152 432.5 153 431.5 153 427.5 154 426.5 154 421.5 155 420.5 155 416.5 156 415.5 156 411.5 157 410.5 158 400.5 159 399.5 159 396.5 164 392.5 164 387.5 165 386.5 164 371.5 168 360.5 173 354.5 175 344.5 177.5 342 186.5 341 192.5 335 197.5 333 201.5 330 209.5 329 210.5 328 215.5 327 225.5 322 233.5 316 239.5 313 269 284.5 269 281.5 270.5 280 275.5 277 287 266.5 295 255.5 294 254.5 294 250.5 297.5 241 299.5 241 303.5 239 314.5 231 318.5 231 319.5 232 327.5 232 333 225.5 335.5 219 339.5 217 341.5 217 344.5 215 346.5 215 349.5 213 351.5 213 354.5 211 361.5 210 366.5 207 375 198.5 375 197.5 390 180.5 393 175.5 404 163.5 410 151.5 416.5 145 432.5 139 437.5 138 451.5 131 454.5 129 462 121.5 464 117.5 471.5 111 481.5 107 484.5 107 485.5 106 490.5 105 491.5 104 508.5 104 509.5 105 513.5 105 514.5 106 525.5 108 526.5 109 542.5 108 543.5 109 553.5 109 554.5 110 558.5 110 563.5 112 570.5 112 571.5 111 579.5 111 580.5 110 584.5 110 589.5 108 593.5 108 594.5 107 603.5 106 604.5 105 626.5 104 627.5 103 638.5 103 639.5 102 648.5 102 649.5 101 667.5 101 668.5 100 675.5 100 677 102.5 676.5 566ZM277.5 253 276.5 253 270 246.5 272 243.5 273 238.5 276.5 236 282.5 237 284 238.5 282 242.5 281 249.5 277.5 253Z"/><path fill="#86ff79" d="M676.5 566 123.5 566 123 481.5 124 480.5 124 475.5 126.5 473 130.5 472 132.5 470 134.5 470 138.5 473 142 468.5 141 463.5 145 459.5 145 457.5 148 452.5 148 450.5 154 440.5 154 435.5 153 434.5 154 433.5 154 428.5 155 427.5 157 413.5 158 412.5 159 404.5 160 403.5 160 399.5 162 396.5 169 390.5 169 386.5 168 385.5 167 377.5 166 376.5 168 371.5 168 368.5 172 360.5 180 351.5 180 349.5 181.5 348 183.5 348 193.5 338 196.5 337 198.5 335 204.5 332 207.5 332 211.5 330 217.5 329 219.5 327 224.5 325 234.5 318 240.5 315 271 286.5 271 282.5 275.5 278 276.5 278 277 276.5 278.5 276 289 265.5 289.5 264 291 263.5 299 251.5 299.5 248 303.5 246 319.5 234 327.5 235 337 224.5 338.5 220 348.5 217 358.5 212 360.5 212 361.5 213 365.5 209 369.5 207 389 183.5 396 173.5 405 163.5 413 150.5 417.5 147 421.5 145 423.5 145 426.5 143 440.5 139 456.5 131 466 121.5 466 120.5 473.5 114 476.5 112 478.5 112 482.5 110 485.5 110 492.5 107 508.5 107 509.5 108 516.5 109 517.5 110 521.5 110 522.5 111 548.5 111 549.5 112 555.5 112 556.5 113 560.5 113 561.5 114 569.5 114 570.5 113 579.5 113 584.5 111 588.5 111 589.5 110 598.5 109 599.5 108 605.5 108 606.5 107 617.5 107 618.5 106 638.5 105 639.5 104 652.5 103 653.5 102 675.5 101 677 102.5 676.5 566ZM275.5 246 274 244.5 275.5 242 277 243.5 275.5 246Z"/><path fill="#93ff6c" d="M676.5 566 123.5 566 123 481.5 128.5 475 130.5 475 134.5 472 139.5 474 143 470.5 143 466.5 142 465.5 146 461.5 146 459.5 149 454.5 150 449.5 153 443.5 156 440.5 156 438.5 155 437.5 155 430.5 156 429.5 158 415.5 159 414.5 161 403.5 162 402.5 162 398.5 172 389.5 171 384.5 170 383.5 170 379.5 169 378.5 169 376.5 171 372.5 171 369.5 173 366.5 173 364.5 180 356.5 180 355.5 194.5 341 197.5 339 209.5 333 212.5 333 213.5 332 218.5 331 220.5 329 238.5 319 245.5 313 246.5 313 272 289.5 274 281.5 276.5 280 293 262.5 299.5 252 302.5 252 307.5 248 312.5 246 322.5 238 324.5 237 329.5 237 336 230.5 336 229.5 340 225.5 340 223.5 341.5 222 345.5 220 347.5 220 350.5 218 352.5 218 355.5 216 357.5 216 359.5 214 361.5 215 365.5 211 370.5 208 385 190.5 394 177.5 406 164.5 412 154.5 416.5 150 429.5 144 440.5 141 447.5 137 449.5 137 457.5 133 460.5 130 464.5 128 465 126.5 477.5 115 479.5 115 486.5 112 489.5 112 493.5 110 507.5 110 508.5 111 516.5 112 517.5 113 521.5 113 522.5 114 552.5 114 553.5 115 559.5 115 560.5 116 569.5 116 570.5 115 588.5 113 589.5 112 593.5 112 594.5 111 598.5 111 599.5 110 620.5 109 621.5 108 631.5 108 632.5 107 638.5 107 639.5 106 649.5 105 650.5 104 654.5 104 655.5 103 674.5 102 675.5 101 677 102.5 676.5 566Z"/><path fill="#9fff60" d="M676.5 566 123.5 566 123 481.5 124 481.5 124.5 483 129.5 478 131.5 478 136.5 474 141.5 475 145 469.5 144 468.5 144 466.5 145 464.5 147 463.5 147 461.5 150 456.5 153 446.5 157 440.5 156 432.5 157 431.5 157 427.5 158 426.5 158 422.5 159 421.5 159 416.5 162 409.5 164 399.5 171 393.5 174 388.5 174 385.5 172 380.5 174 370.5 176 367.5 176 365.5 184 356.5 186 352.5 187.5 352 196.5 343 207.5 338 211.5 335 219.5 333 224.5 329 229.5 327 231.5 325 234.5 324 236.5 322 245.5 317 268.5 296 274 292.5 276 282.5 280 278.5 280 277.5 282 276.5 282 274.5 283.5 274 289 267.5 293 264.5 297 257.5 299.5 255 306.5 254 308.5 251 328.5 241 342 227.5 344.5 223 346.5 223 349.5 221 351.5 221 354.5 219 361.5 217 369.5 210 370.5 210 382 196.5 396 176.5 418.5 151 422.5 149 424.5 149 427.5 147 429.5 147 432.5 145 443.5 142 457.5 135 459.5 135 463.5 131 466.5 130 471 125.5 471 124.5 478.5 118 480.5 118 493.5 113 507.5 113 508.5 114 516.5 115 517.5 116 523.5 116 524.5 117 544.5 116 545.5 117 555.5 117 556.5 118 569.5 118 570.5 117 582.5 116 583.5 115 588.5 115 589.5 114 593.5 114 594.5 113 599.5 113 600.5 112 623.5 111 624.5 110 639.5 109 643.5 107 651.5 106 656.5 104 663.5 104 664.5 103 676.5 102 676.5 566Z"/><path fill="#acff53" d="M676.5 566 123.5 566 123 481.5 124 481.5 124.5 486 137.5 476 141.5 477 145 473.5 146 471.5 146 469.5 145 468.5 147 466.5 151 458.5 154 447.5 157 443.5 157 441.5 158 440.5 158 435.5 157 434.5 158 433.5 158 429.5 159 428.5 159 423.5 160 422.5 160 419.5 161 418.5 161 415.5 163 411.5 163 408.5 164 407.5 165 402.5 172 394.5 176 387.5 175 377.5 176 376.5 177 371.5 180 365.5 184 361.5 189 353.5 190.5 353 197.5 346 208.5 341 213.5 337 220.5 335 228.5 329 245.5 320 261.5 306 262.5 306 270.5 298 275.5 295 278 282.5 281 279.5 283 275.5 291 267.5 291 266.5 294 265.5 295 262.5 298.5 258 302.5 258 303.5 257 307.5 257 309.5 256 313.5 252 330.5 243 348.5 224 350.5 224 360.5 219 362.5 219 376 206.5 382 197.5 386 193.5 395 179.5 417.5 154 432.5 147 443.5 144 446.5 142 448.5 142 456.5 138 458.5 138 467.5 133 478.5 122 494.5 116 506.5 116 507.5 117 511.5 117 512.5 118 516.5 118 517.5 119 524.5 119 525.5 120 526.5 119 551.5 119 552.5 120 560.5 120 562.5 121 563.5 120 569.5 120 574.5 118 581.5 118 582.5 117 587.5 117 588.5 116 593.5 116 594.5 115 599.5 115 600.5 114 627.5 113 628.5 112 639.5 111 640.5 110 642.5 110 646.5 108 649.5 108 650.5 107 653.5 107 657.5 105 663.5 105 664.5 104 669.5 104 670.5 103 675.5 103 676.5 102 676.5 566Z"/><path fill="#b9ff46" d="M676.5 566 123.5 566 123 481.5 124 481.5 124.5 490 137.5 479 139.5 478 141.5 479 146 474.5 147 472.5 147 468.5 149 466.5 153 458.5 155 448.5 158 444.5 158 440.5 159 439.5 159 430.5 160 429.5 160 425.5 161 424.5 162 416.5 165 410.5 165 407.5 167 404.5 168 400.5 173 395.5 179 385.5 178 383.5 178 377.5 181 372.5 182 368.5 192 354.5 198.5 349 209.5 344 215.5 339 220.5 338 229.5 331 246.5 322 259.5 311 260.5 311 265.5 306 266.5 306 272.5 300 276.5 298 278 296.5 280 282.5 283 280.5 284 275.5 296 264.5 297 261.5 301.5 261 302.5 260 307.5 260 308.5 259 313.5 258 317.5 253 326.5 249 335.5 241 336.5 241 349 228.5 350.5 226 357.5 224 360.5 221 362.5 221 377 207.5 377 206.5 386 195.5 388 191.5 391 188.5 397 178.5 418.5 156 425.5 152 432.5 150 435.5 148 441.5 147 452.5 142 462.5 139 471.5 134 474.5 130 475.5 130 476 128.5 481.5 124 494.5 120 495.5 119 506.5 119 507.5 120 511.5 120 516.5 122 557.5 122 558.5 123 565.5 123 569.5 121 579.5 120 580.5 119 586.5 119 587.5 118 593.5 118 594.5 117 601.5 117 602.5 116 616.5 116 617.5 115 629.5 115 630.5 114 639.5 113 640.5 112 645.5 111 648.5 109 651.5 109 658.5 106 663.5 106 664.5 105 668.5 105 669.5 104 674.5 104 676.5 102 676.5 566Z"/><path fill="#c6ff39" d="M676.5 566 123.5 566 123 481.5 124 481.5 124.5 494 131.5 487 136.5 484 140.5 480 143.5 480 148 474.5 149 472.5 148 471.5 154 460.5 156 450.5 159 444.5 160 432.5 161 431.5 162 422.5 163 421.5 163 418.5 164 417.5 165 412.5 167 409.5 169 402.5 174 396.5 181 384.5 181 381.5 180 380.5 184 373.5 185 369.5 188 366.5 189 363.5 194 356.5 199.5 352 210.5 347 219.5 340 221.5 340 231.5 332 244.5 326 250.5 322 253.5 319 257.5 317 262.5 312 263.5 312 274.5 302 278.5 300 280 298.5 282 283.5 284 281.5 285 276.5 289 272.5 289 271.5 293.5 267 295.5 267 298.5 263 307.5 263 312.5 261 316.5 261 322.5 254 325.5 253 333.5 246 334.5 246 354.5 227 358.5 226 361.5 223 365.5 221 379 207.5 400 176.5 418.5 158 435.5 150 438.5 150 439.5 149 447.5 147 450.5 145 461.5 142 468.5 138 470.5 138 484.5 126 492.5 123 495.5 123 496.5 122 505.5 122 506.5 123 515.5 124 516.5 125 532.5 125 533.5 124 565.5 125 569.5 123 573.5 123 578.5 121 585.5 121 586.5 120 593.5 120 594.5 119 602.5 119 603.5 118 620.5 118 621.5 117 630.5 117 631.5 116 635.5 116 636.5 115 639.5 115 640.5 114 645.5 113 648.5 111 650.5 111 653.5 109 655.5 109 659.5 107 675.5 104 676.5 102 676.5 566Z"/><path fill="#d2ff2d" d="M676.5 566 123.5 566 123 481.5 124 481.5 124.5 498 134.5 488 143.5 482 148 477.5 150 473.5 150 471.5 156 459.5 156 456.5 157 455.5 157 452.5 158 451.5 160 440.5 161 439.5 161 434.5 162 433.5 162 429.5 163 428.5 163 424.5 164 423.5 165 416.5 168 411.5 168 409.5 170 406.5 171 402.5 174 399.5 179 390.5 181 388.5 183 384.5 183 381.5 191 365.5 197 357.5 200.5 355 211.5 350 221.5 342 224.5 341 232.5 334 245.5 328 261.5 317 276.5 304 279.5 303 282 299.5 282 295.5 283 294.5 283 290.5 284 289.5 284 285.5 285 284.5 286 276.5 292 270.5 292 269.5 293.5 268 295.5 268 297.5 266 307.5 266 312.5 264 320.5 263 326.5 255 327.5 255 339.5 244 340.5 244 356.5 229 359.5 228 363.5 224 364.5 224 380 208.5 382 204.5 385 201.5 393 189.5 398 180.5 410.5 167 411.5 167 420.5 159 426.5 156 428.5 156 433.5 153 435.5 153 436.5 152 465.5 143 468.5 141 470.5 141 474.5 139 485.5 129 496.5 125 505.5 125 506.5 126 515.5 127 516.5 128 526.5 128 527.5 127 565.5 127 573.5 124 576.5 124 577.5 123 584.5 123 585.5 122 604.5 121 605.5 120 626.5 120 627.5 119 631.5 119 632.5 118 640.5 117 659.5 108 675.5 105 676.5 102 676.5 566Z"/><path fill="#dfff20" d="M676.5 566 123.5 566 123 508.5 124 507.5 124 501.5 135.5 490 136.5 490 149 478.5 151 474.5 151 472.5 157 460.5 157 457.5 158 456.5 159 448.5 160 447.5 161 440.5 162 439.5 162 435.5 163 434.5 163 430.5 164 429.5 166 418.5 174 401.5 181 392.5 190 373.5 192 371.5 194 366.5 197 362.5 202.5 358 214.5 352 235.5 335 248.5 329 260.5 321 279.5 306 310.5 298 317 290.5 320 272.5 324 264.5 330 255.5 350.5 237 351.5 237 363.5 226 364.5 226 381 209.5 385 202.5 392 193.5 396 185.5 402 177.5 411.5 168 412.5 168 420.5 161 431.5 156 433.5 156 436.5 154 438.5 154 445.5 151 448.5 151 449.5 150 475.5 142 486.5 132 494.5 129 497.5 129 498.5 128 505.5 128 506.5 129 516.5 130 517.5 131 519.5 131 520.5 130 536.5 130 537.5 129 564.5 129 565.5 128 573.5 127 577.5 125 593.5 124 594.5 123 628.5 122 629.5 121 632.5 121 633.5 120 636.5 120 637.5 119 642.5 118 657.5 110 663.5 109 671.5 106 674.5 106 675.5 105 676 108.5 677 109.5 676.5 566ZM293.5 299 290.5 299 288 297.5 288 284.5 295.5 283 296.5 282 303.5 283 304 295.5 301.5 297 294.5 298 293.5 299Z"/><path fill="#ecff13" d="M676.5 566 123.5 566 123 508.5 124 507.5 124 503.5 125 501.5 149 479.5 158 459.5 162 439.5 164 435.5 166 425.5 167 424.5 167 420.5 175 404.5 185 391.5 197 367.5 202.5 363 215.5 356 232.5 340 250.5 331 258.5 325 261.5 324 264.5 321 268.5 319 281.5 309 286.5 308 287.5 307 290.5 307 291.5 306 294.5 306 295.5 305 300.5 304 301.5 303 304.5 303 312.5 300 321 290.5 322 280.5 323 279.5 323 274.5 324 273.5 325 268.5 331 259.5 331 257.5 340.5 247 341.5 247 349.5 239 350.5 239 361.5 229 368.5 224 380 212.5 403 178.5 411.5 170 412.5 170 419.5 164 433.5 157 438.5 156 442.5 154 445.5 154 446.5 153 448.5 153 449.5 152 451.5 152 473.5 144 476.5 144 488.5 134 493.5 132 496.5 132 497.5 131 506.5 131 507.5 132 513.5 132 514.5 133 526.5 133 527.5 132 550.5 132 551.5 131 570.5 130 578.5 127 586.5 127 587.5 126 595.5 126 596.5 125 629.5 124 630.5 123 633.5 123 634.5 122 642.5 120 657.5 111 663.5 110 671.5 107 674.5 107 675.5 106 677 109.5 676.5 566ZM297.5 292 294 291.5 294.5 288 298 288.5 297.5 292Z"/><path fill="#f9ff06" d="M676.5 566 123.5 566 123 508.5 125 503.5 150 479.5 159 457.5 159 454.5 160 453.5 163 438.5 168 427.5 169 420.5 179 402.5 188 392.5 190 388.5 190 386.5 198 371.5 200.5 369 216.5 360 221 355.5 221 354.5 235.5 341 246.5 335 250.5 334 252.5 332 260.5 328 281.5 313 285.5 311 292.5 310 305.5 305 313.5 303 316.5 301 317 299.5 320.5 297 324 292.5 325 285.5 326 284.5 326 279.5 327 278.5 327 272.5 328 271.5 328 269.5 330 267.5 330 265.5 333 260.5 334 256.5 349.5 240 354.5 237 359.5 232 366.5 227 383 210.5 404 179.5 410.5 173 411.5 173 419.5 166 426.5 162 428.5 162 438.5 157 441.5 157 449.5 154 452.5 154 453.5 153 476.5 146 490.5 136 496.5 135 497.5 134 508.5 134 509.5 135 516.5 135 517.5 136 518.5 135 533.5 135 534.5 134 551.5 134 554.5 132 571.5 132 572.5 131 575.5 131 580.5 129 596.5 128 597.5 127 629.5 126 630.5 125 637.5 124 647.5 119 657.5 112 675.5 107 677 109.5 676.5 566Z"/><path fill="#fff900" d="M676.5 566 123.5 566 123 508.5 125 505.5 150 480.5 153 474.5 153 472.5 156 467.5 156 465.5 158 462.5 158 460.5 160 456.5 160 453.5 161 452.5 161 449.5 163 445.5 164 438.5 167 434.5 167 432.5 169 429.5 171 420.5 180 405.5 191 393.5 192 389.5 194 386.5 194 384.5 198 376.5 200.5 374 203.5 373 211.5 367 220.5 362 227 352.5 238.5 342 248.5 337 250.5 337 252.5 335 259.5 332 285.5 315 300.5 311 303.5 309 311.5 307 317.5 304 327 294.5 328 292.5 329 283.5 330 282.5 330 276.5 331 275.5 331 270.5 334 265.5 335 259.5 339 254.5 340 251.5 349.5 241 358.5 235 363.5 230 370.5 225 382 213.5 401 185.5 406 179.5 415.5 171 419.5 169 422.5 166 426.5 164 428.5 164 433.5 161 435.5 161 438.5 159 449.5 157 450.5 156 455.5 155 474.5 148 477.5 148 490.5 139 496.5 138 497.5 137 512.5 137 513.5 138 524.5 138 525.5 137 546.5 137 547.5 136 552.5 136 555.5 134 572.5 134 573.5 133 581.5 132 582.5 131 589.5 131 590.5 130 597.5 130 598.5 129 630.5 128 631.5 127 636.5 127 638.5 126 640.5 124 645.5 122 651.5 118 654.5 115 660.5 112 670.5 110 675.5 108 677 109.5 676.5 566Z"/><path fill="#ffec00" d="M676.5 566 123.5 566 123 508.5 123.5 508 124.5 509 126 507.5 126 506.5 142 490.5 142 489.5 151 479.5 154 473.5 154 471.5 157 466.5 157 464.5 159 461.5 160 455.5 162 451.5 162 448.5 164 444.5 164 441.5 171 428.5 172 422.5 182 406.5 183.5 406 184 404.5 193 395.5 196 389.5 196 387.5 199 382.5 199 380.5 221.5 366 225 362.5 225 360.5 227 359.5 227 357.5 231 353.5 231 352.5 232.5 352 233 350.5 239.5 344 254.5 338 256.5 336 263.5 333 268.5 329 271.5 328 273.5 326 276.5 325 278.5 323 283.5 321 287.5 318 293.5 317 296.5 315 306.5 312 309.5 310 314.5 309 323.5 303 331 294.5 332 288.5 333 287.5 333 282.5 334 281.5 334 272.5 337 265.5 338 257.5 340 255.5 342 250.5 353.5 239 357.5 237 376 221.5 376 220.5 385 211.5 395 197.5 396 194.5 407 181.5 407 180.5 422.5 168 438.5 161 449.5 159 453.5 157 456.5 157 457.5 156 480.5 149 489.5 143 496.5 140 531.5 140 532.5 139 550.5 139 558.5 135 568.5 136 569.5 137 570.5 136 573.5 136 578.5 134 591.5 133 592.5 132 599.5 132 600.5 131 631.5 130 632.5 129 636.5 129 640.5 127 652.5 119 656.5 115 660.5 113 663.5 113 670.5 110 676.5 109 676.5 566Z"/><path fill="#ffdf00" d="M676.5 566 123.5 566 123 508.5 124 508.5 124.5 511 134 500.5 134 499.5 144 489.5 144 488.5 151 480.5 152 477.5 154 475.5 154 473.5 160 460.5 160 457.5 162 454.5 162 451.5 164 447.5 165 441.5 172 430.5 175 420.5 180 414.5 182 410.5 192.5 400 194 399.5 198 392.5 198 390.5 201 384.5 212.5 376 221.5 371 227 365.5 233 354.5 234.5 354 235 352.5 241.5 346 247.5 343 249.5 343 267.5 334 274.5 329 283.5 325 289.5 321 295.5 320 312.5 312 314.5 312 327.5 304 335 294.5 336 286.5 337 285.5 337 280.5 338 279.5 338 276.5 337 275.5 338 274.5 338 270.5 339 269.5 339 265.5 340 264.5 340 258.5 342 256.5 343 251.5 352.5 241 371.5 227 384 214.5 403 187.5 409.5 180 410.5 180 418.5 173 424.5 169 428.5 167 430.5 167 435.5 164 445.5 162 446.5 161 449.5 161 450.5 160 453.5 160 475.5 152 481.5 151 483.5 149 496.5 143 502.5 143 503.5 142 505.5 143 522.5 143 523.5 142 551.5 141 559.5 137 568.5 138 570.5 139 571.5 138 578.5 137 579.5 136 592.5 135 593.5 134 600.5 134 601.5 133 617.5 133 618.5 132 632.5 132 633.5 131 637.5 131 649.5 123 658.5 115 663.5 114 676.5 109 676.5 566Z"/><path fill="#ffd200" d="M676.5 566 123.5 566 123 508.5 124 508.5 124.5 513 132 504.5 132 503.5 142 493.5 153 478.5 155 474.5 155 472.5 157 469.5 157 467.5 159 464.5 161 456.5 163 453.5 163 450.5 166 443.5 166 440.5 172 433.5 177 420.5 181 416.5 185 410.5 198 399.5 201 391.5 205.5 387 210.5 384 212.5 381 224.5 374 229 369.5 236 355.5 242.5 348 246.5 347 251.5 344 253.5 344 258.5 341 260.5 341 266.5 337 271.5 335 273.5 333 291.5 324 294.5 324 297.5 322 299.5 322 308.5 317 310.5 317 324.5 310 336 299.5 338 296.5 339 290.5 340 289.5 340 285.5 341 284.5 341 271.5 342 270.5 342 264.5 343 263.5 342 262.5 342 260.5 343 259.5 342 258.5 344 256.5 344 251.5 352.5 242 364.5 234 379 221.5 379 220.5 387 212.5 397 197.5 409 183.5 409 182.5 418.5 175 424.5 171 428.5 169 430.5 169 437.5 165 445.5 164 446.5 163 453.5 162 457.5 160 460.5 160 461.5 159 484.5 152 495.5 146 501.5 146 502.5 145 547.5 144 548.5 143 554.5 142 557.5 140 562.5 140 563.5 139 564.5 140 569.5 140 570.5 141 571.5 140 579.5 139 580.5 138 594.5 137 595.5 136 602.5 136 603.5 135 618.5 135 619.5 134 634.5 134 635.5 133 638.5 133 649.5 125 658.5 116 675.5 111 676.5 109 676.5 566Z"/><path fill="#ffc600" d="M676.5 566 123.5 566 123 508.5 124 508.5 124.5 515 131 507.5 131 506.5 140 497.5 153 479.5 158 468.5 158 466.5 160 463.5 161 458.5 163 455.5 167 440.5 174 433.5 178 422.5 191.5 408 192.5 408 201 400.5 202 396.5 204.5 394 214.5 387 232 371.5 237 361.5 238 357.5 244.5 350 248.5 348 250.5 348 253.5 346 255.5 346 258.5 344 260.5 344 280.5 333 282.5 333 293.5 327 298.5 326 317.5 316 319.5 316 323.5 314 328.5 310 331.5 309 339 301.5 340 298.5 342 296.5 342 293.5 344 289.5 344 284.5 345 283.5 345 273.5 344 272.5 345 270.5 345 252.5 352.5 243 367.5 233 386 215.5 386 214.5 393 206.5 399 196.5 411.5 182 415.5 180 424.5 173 428.5 171 430.5 171 437.5 167 454.5 164 476.5 156 479.5 156 480.5 155 485.5 154 495.5 149 499.5 149 500.5 148 535.5 147 536.5 146 550.5 146 553.5 144 559.5 144 564.5 142 569.5 142 571.5 143 576.5 141 588.5 140 589.5 139 595.5 139 596.5 138 604.5 138 605.5 137 619.5 137 620.5 136 636.5 136 646.5 130 659.5 117 675.5 112 676.5 109 676.5 566Z"/><path fill="#ffb900" d="M676.5 566 123.5 566 123 508.5 124 508.5 124.5 517 131 509.5 131 508.5 144 494.5 147 488.5 153 480.5 159 467.5 159 465.5 161 462.5 162 457.5 164 454.5 164 452.5 167 445.5 167 442.5 175 434.5 177 431.5 179 424.5 190.5 412 199.5 406 204.5 400 218.5 390 232 377.5 238 367.5 238 365.5 240 362.5 241 358.5 245.5 352 252.5 350 260.5 346 262.5 346 281.5 336 283.5 336 295.5 330 300.5 329 306.5 326 308.5 324 329.5 314 336 309.5 336 308.5 343 301.5 346 295.5 346 292.5 348 287.5 348 268.5 347 267.5 347 253.5 346 252.5 352.5 244 366.5 235 383 220.5 383 219.5 390 212.5 397 201.5 405 192.5 405 191.5 418.5 179 424.5 175 430.5 172 432.5 172 437.5 169 454.5 166 461.5 163 464.5 163 465.5 162 467.5 162 468.5 161 494.5 153 495.5 152 498.5 152 499.5 151 527.5 150 528.5 149 542.5 149 543.5 148 550.5 148 551.5 147 560.5 147 561.5 146 565.5 146 570.5 144 572.5 145 577.5 143 589.5 142 590.5 141 596.5 141 597.5 140 620.5 139 621.5 138 637.5 138 643.5 135 659.5 118 675.5 113 676.5 109 676.5 566Z"/><path fill="#ffac00" d="M676.5 566 123.5 566 123 523.5 124 522.5 124 519.5 126 516.5 145 494.5 146 491.5 155 478.5 157 474.5 157 472.5 159 469.5 159 467.5 161 464.5 161 462.5 163 459.5 163 457.5 165 454.5 168 443.5 170 440.5 178 433.5 179 428.5 182 423.5 190.5 415 205.5 405 221.5 392 226.5 389 239 374.5 242 365.5 255.5 352 259.5 351 262.5 349 264.5 349 288.5 337 290.5 337 293.5 335 300.5 333 308.5 329 310.5 327 325.5 320 327.5 318 335.5 314 347 302.5 349 294.5 350 293.5 351 286.5 352 285.5 352 276.5 351 275.5 350 260.5 352 258.5 360 241.5 369.5 235 384 221.5 384 220.5 394 209.5 401 198.5 414.5 184 426.5 176 430.5 175 437.5 171 444.5 170 445.5 169 449.5 169 450.5 168 454.5 168 461.5 165 464.5 165 465.5 164 467.5 164 480.5 159 483.5 159 490.5 156 493.5 156 497.5 154 517.5 153 518.5 152 532.5 152 533.5 151 547.5 151 548.5 150 560.5 150 561.5 149 565.5 149 570.5 147 578.5 146 579.5 145 585.5 145 586.5 144 599.5 143 600.5 142 627.5 141 628.5 140 642.5 140 660.5 121 664.5 118 675.5 115 676 130.5 677 131.5 676.5 566Z"/><path fill="#ff9f00" d="M676.5 566 123.5 566 123 523.5 126 517.5 145 495.5 155 480.5 161 467.5 161 465.5 164 460.5 164 458.5 166 455.5 169 444.5 171 441.5 179 434.5 180 430.5 183 425.5 191.5 417 212.5 403 223.5 394 228.5 391 242 376.5 246 367.5 257.5 356 259.5 356 264.5 353 266.5 353 287.5 342 289.5 342 292.5 340 294.5 340 302.5 336 304.5 336 308.5 333 329.5 323 334.5 318 339 315.5 339 314.5 350 301.5 351 296.5 352 295.5 352 292.5 355 285.5 355 260.5 363 244.5 366.5 242 385 223.5 385 222.5 391 216.5 400 204.5 402 200.5 416.5 185 425.5 179 437.5 173 439.5 173 443.5 171 447.5 171 448.5 170 452.5 170 453.5 169 460.5 168 470.5 164 473.5 164 480.5 161 483.5 161 484.5 160 490.5 159 498.5 156 505.5 156 506.5 155 519.5 155 520.5 154 536.5 154 537.5 153 562.5 152 563.5 151 567.5 151 568.5 150 572.5 150 573.5 149 577.5 149 578.5 148 590.5 147 591.5 146 597.5 146 598.5 145 608.5 145 609.5 144 643.5 143 654 132.5 654 131.5 658 128.5 659.5 126 665.5 122 672.5 120 675.5 118 676 130.5 677 131.5 676.5 566Z"/><path fill="#ff9300" d="M676.5 566 123.5 566 123 523.5 130 513.5 145 496.5 156 480.5 160 472.5 160 470.5 164 463.5 164 461.5 167 456.5 168 451.5 170 448.5 170 446.5 172 442.5 180 435.5 183 428.5 192.5 419 212.5 406 222.5 398 229.5 394 246 377.5 248 372.5 260.5 360 264.5 358 266.5 358 280.5 351 282.5 349 284.5 349 291.5 345 293.5 345 301.5 341 303.5 341 322.5 331 324.5 331 335 324.5 335 323.5 341 317.5 343 313.5 350 306.5 352 302.5 352 300.5 354 297.5 354 294.5 356 291.5 356 289.5 358 285.5 358 281.5 359 280.5 358 278.5 359 277.5 359 261.5 367 246.5 391 219.5 407 197.5 421.5 184 427.5 180 440.5 174 442.5 174 446.5 172 450.5 172 451.5 171 459.5 170 463.5 168 466.5 168 473.5 165 476.5 165 480.5 163 487.5 162 498.5 158 506.5 158 507.5 157 523.5 157 524.5 156 542.5 156 543.5 155 558.5 155 559.5 154 565.5 154 566.5 153 580.5 151 581.5 150 588.5 150 589.5 149 596.5 149 597.5 148 605.5 148 606.5 147 620.5 147 621.5 146 644.5 146 646.5 145 661.5 129 667.5 125 675.5 122 676 130.5 677 131.5 676.5 566Z"/><path fill="#ff8600" d="M676.5 566 123.5 566 123 523.5 127 519.5 134 509.5 146 496.5 148 492.5 154 485.5 164 466.5 164 464.5 170 452.5 171 447.5 174 442.5 181 436.5 183 431.5 194.5 420 209.5 410 212.5 409 215.5 406 218.5 405 236.5 392 237.5 390 238.5 390 246.5 382 248 381.5 251 375.5 262.5 364 264.5 364 288.5 351 290.5 351 295.5 348 297.5 348 305.5 344 307.5 344 320.5 337 322.5 337 327.5 334 329.5 334 338 327.5 339 324.5 344 319.5 345 315.5 354 304.5 356 296.5 362 284.5 361 282.5 362 281.5 364 261.5 370 249.5 375 243.5 377 239.5 381 235.5 383 231.5 396 216.5 398 212.5 401 209.5 407 200.5 423.5 185 445.5 174 458.5 172 462.5 170 465.5 170 469.5 168 476.5 167 480.5 165 491.5 163 499.5 160 507.5 160 508.5 159 527.5 159 528.5 158 547.5 158 548.5 157 561.5 157 562.5 156 567.5 156 568.5 155 572.5 155 573.5 154 585.5 153 586.5 152 594.5 152 595.5 151 602.5 151 603.5 150 617.5 150 618.5 149 644.5 149 645.5 148 647.5 148 658 137.5 658 136.5 664.5 131 669.5 128 671.5 128 675.5 126 676 130.5 677 131.5 676.5 566Z"/><path fill="#ff7900" d="M676.5 566 123.5 566 123 523.5 127 520.5 130 515.5 141 503.5 141 502.5 146 497.5 146 496.5 155 485.5 169 458.5 169 456.5 171 453.5 173 446.5 176.5 442 182 437.5 182 436.5 185 433.5 186 430.5 190.5 426 207.5 414 215.5 410 232.5 398 235.5 397 242.5 390 249.5 385 256 377.5 256 376.5 263.5 369 278.5 362 280.5 360 294.5 353 296.5 353 299.5 351 306.5 349 327.5 339 329.5 339 333.5 337 341 330.5 343 325.5 347 321.5 348 316.5 355 307.5 356 303.5 359 298.5 360 293.5 363 287.5 365 285.5 364 283.5 366 279.5 366 274.5 367 273.5 367 269.5 368 268.5 368 263.5 374 250.5 377 247.5 385 232.5 396 219.5 408 202.5 425.5 186 444.5 176 452.5 175 453.5 174 457.5 174 461.5 172 472.5 170 476.5 168 479.5 168 480.5 167 483.5 167 484.5 166 487.5 166 488.5 165 491.5 165 492.5 164 495.5 164 500.5 162 509.5 162 510.5 161 534.5 161 535.5 160 553.5 160 554.5 159 564.5 159 565.5 158 576.5 157 577.5 156 591.5 155 592.5 154 600.5 154 601.5 153 614.5 153 615.5 152 643.5 152 644.5 151 648.5 151 653.5 146 654.5 146 662.5 137 669.5 132 671.5 132 675.5 130 677 131.5 676.5 566Z"/><path fill="#ff6c00" d="M676.5 566 123.5 566 123 523.5 123.5 523 124.5 524 127 521.5 135 510.5 154 488.5 158 482.5 162 473.5 164 471.5 176 444.5 183 438.5 186 433.5 191.5 428 208.5 416 213.5 414 234.5 400 237.5 399 241.5 395 252.5 387 259 380.5 259.5 379 267.5 372 280.5 366 282.5 364 298.5 356 305.5 354 308.5 352 310.5 352 319.5 347 332.5 343 342 336.5 347 326.5 349 324.5 351 317.5 353 315.5 358 306.5 358 304.5 365 291.5 365 289.5 368 285.5 371 270.5 373 267.5 373 262.5 379 250.5 381 248.5 381 246.5 385 239.5 386 235.5 409 204.5 427.5 187 447.5 177 455.5 176 456.5 175 459.5 175 460.5 174 463.5 174 464.5 173 467.5 173 468.5 172 471.5 172 472.5 171 475.5 171 476.5 170 487.5 168 488.5 167 491.5 167 492.5 166 496.5 166 501.5 164 511.5 164 512.5 163 541.5 163 542.5 162 558.5 162 559.5 161 567.5 161 568.5 160 573.5 160 574.5 159 588.5 158 589.5 157 598.5 157 599.5 156 649.5 154 664.5 140 671.5 135 675.5 134 676.5 131 676.5 566Z"/><path fill="#ff6000" d="M676.5 566 123.5 566 123 523.5 124 523.5 124.5 525 127 522.5 135 511.5 155 488.5 160 479.5 162 477.5 174 453.5 174 451.5 177 445.5 184.5 439 194.5 428 209.5 418 223.5 411 228.5 407 231.5 406 233.5 404 242.5 399 250.5 392 258.5 387 268.5 377 273.5 375 275.5 373 280.5 371 282.5 369 291.5 365 297.5 361 299.5 361 302.5 359 304.5 359 312.5 355 314.5 355 321.5 351 324.5 351 327.5 349 335.5 347 338.5 344 342.5 342 347 337.5 347 335.5 352 325.5 353 319.5 355 317.5 360 307.5 360 305.5 363 301.5 363 299.5 365 295.5 371 286.5 373 278.5 377 268.5 378 261.5 384 250.5 386 242.5 391 231.5 394 228.5 409 207.5 413 203.5 413 202.5 414.5 202 429.5 188 449.5 178 458.5 177 459.5 176 462.5 176 463.5 175 466.5 175 467.5 174 474.5 173 475.5 172 479.5 172 480.5 171 483.5 171 488.5 169 492.5 169 497.5 167 501.5 167 502.5 166 516.5 166 517.5 165 547.5 165 548.5 164 563.5 164 564.5 163 570.5 163 571.5 162 577.5 162 578.5 161 596.5 160 597.5 159 608.5 159 609.5 158 623.5 158 624.5 157 650.5 157 664.5 144 670.5 140 675.5 138 676.5 131 676.5 566Z"/><path fill="#ff5300" d="M676.5 566 123.5 566 123 523.5 124 523.5 124.5 526 128 522.5 135 512.5 157 487.5 165 472.5 167 470.5 176 452.5 177 448.5 179 445.5 190 435.5 190.5 434 207.5 422 223.5 414 235.5 406 240.5 404 249.5 397 259.5 391 269.5 382 275.5 379 277.5 377 282.5 375 284.5 373 291.5 370 293.5 368 301.5 364 303.5 364 306.5 362 308.5 362 316.5 358 318.5 358 323.5 355 326.5 355 333.5 352 336.5 352 339.5 349 348 343.5 353 333.5 353 330.5 355 327.5 355 322.5 356 321.5 356 319.5 360 313.5 361 309.5 366 299.5 368 297.5 377 280.5 380 270.5 382 267.5 383 260.5 387 252.5 387 249.5 391 239.5 392 233.5 410 209.5 414 205.5 414 204.5 430.5 190 448.5 180 456.5 179 457.5 178 461.5 178 462.5 177 469.5 176 470.5 175 474.5 175 479.5 173 488.5 172 489.5 171 497.5 170 498.5 169 502.5 169 503.5 168 553.5 167 554.5 166 566.5 166 567.5 165 574.5 165 575.5 164 582.5 164 583.5 163 605.5 162 606.5 161 620.5 161 621.5 160 651.5 160 667.5 146 676 141.5 676.5 131 676.5 566Z"/><path fill="#ff4600" d="M676.5 566 123.5 566 123 523.5 124 523.5 124.5 527 135 514.5 135 513.5 140 508.5 140 507.5 158 487.5 161 481.5 163 479.5 165 474.5 170 467.5 180 446.5 194.5 433 203.5 428 208.5 424 219.5 419 221.5 417 230.5 413 232.5 411 244.5 405 255.5 397 258.5 396 267.5 390 271.5 386 274.5 385 286.5 377 291.5 375 293.5 373 305.5 367 307.5 367 310.5 365 312.5 365 320.5 361 322.5 361 325.5 359 336.5 357 340.5 355 352 345.5 354 341.5 354 339.5 356 336.5 358 322.5 363 312.5 363 310.5 372 294.5 376 289.5 385 271.5 385 269.5 387 265.5 387 262.5 389 258.5 391 247.5 392 246.5 392 242.5 393 241.5 394 234.5 414 207.5 429.5 193 450.5 181 454.5 181 455.5 180 469.5 178 474.5 176 478.5 176 479.5 175 493.5 173 494.5 172 502.5 171 503.5 170 540.5 170 541.5 169 559.5 169 560.5 168 570.5 168 571.5 167 589.5 166 590.5 165 602.5 165 603.5 164 617.5 164 618.5 163 650.5 163 651.5 162 654.5 162 668.5 149 676 145.5 676.5 131 676.5 566Z"/><path fill="#ff3900" d="M676.5 566 123.5 566 123 543.5 124 542.5 124 530.5 125 528.5 142 508.5 142 507.5 158 490.5 167 474.5 169 472.5 170 469.5 172 467.5 181 448.5 188.5 441 189.5 441 197.5 434 208.5 428 210.5 426 238.5 413 240.5 411 247.5 408 252.5 404 255.5 403 260.5 399 270.5 395 275.5 391 278.5 390 283.5 386 293.5 381 295.5 379 300.5 377 302.5 375 313.5 370 315.5 370 318.5 368 320.5 368 323.5 366 325.5 366 329.5 364 332.5 364 333.5 363 336.5 363 337.5 362 340.5 362 341.5 361 344.5 361 345.5 360 348.5 360 352 357.5 353 354.5 359 345.5 359 338.5 360 337.5 361 326.5 362 325.5 362 322.5 365 316.5 365 314.5 370 304.5 376 296.5 377 293.5 382 287.5 390 272.5 412.5 257 416.5 256 425.5 250 433 242.5 433 240.5 434 239.5 434 233.5 435 232.5 435 226.5 436 225.5 436 220.5 437 219.5 438 207.5 439 206.5 440 194.5 442.5 190 447.5 187 449.5 187 457.5 183 461.5 183 466.5 181 470.5 181 475.5 179 479.5 179 484.5 177 488.5 177 489.5 176 493.5 176 494.5 175 498.5 175 499.5 174 503.5 174 504.5 173 555.5 172 556.5 171 569.5 171 570.5 170 578.5 170 579.5 169 587.5 169 588.5 168 619.5 167 620.5 166 651.5 166 652.5 165 666.5 164 671 158.5 675.5 150 676 173.5 677 174.5 676.5 566Z"/><path fill="#ff2d00" d="M676.5 566 123.5 566 123 543.5 124 542.5 124 533.5 162 490.5 171 473.5 173 471.5 183 450.5 198.5 437 224.5 424 226.5 424 232.5 421 238.5 420 242.5 417 249.5 414 262.5 405 269.5 404 270.5 403 274.5 403 283.5 397 286.5 396 288.5 394 291.5 393 293.5 391 321.5 376 323.5 376 326.5 374 328.5 374 332.5 372 343.5 370 347.5 368 358.5 365 360 363.5 365 354.5 365 350.5 364 349.5 364 339.5 365 338.5 365 333.5 366 332.5 367 324.5 369 320.5 369 318.5 371 315.5 371 313.5 373 311.5 377 303.5 380 300.5 382 296.5 387 291.5 392 281.5 397.5 274 403.5 271 412.5 265 415.5 262 420.5 260 428.5 254 439 242.5 439 240.5 440 239.5 440 233.5 441 232.5 441 227.5 442 226.5 443 214.5 444 213.5 445 201.5 446 200.5 446 196.5 447.5 195 464.5 188 471.5 187 478.5 184 481.5 184 486.5 182 490.5 182 491.5 181 498.5 180 499.5 179 502.5 179 507.5 177 566.5 175 567.5 174 573.5 174 574.5 173 589.5 172 590.5 171 611.5 171 612.5 170 613.5 171 614.5 170 615.5 171 616.5 170 626.5 170 627.5 171 630.5 171 631.5 170 646.5 170 647.5 169 654.5 169 655.5 168 667.5 167 670 164.5 671 161.5 675.5 155 676 173.5 677 174.5 676.5 566Z"/><path fill="#ff2000" d="M676.5 566 123.5 566 123 543.5 124 542.5 124 537.5 131 530.5 131 529.5 137 523.5 143 515.5 163 494.5 167 488.5 171 479.5 173 477.5 176 470.5 178 468.5 186 451.5 198.5 441 204.5 437 211.5 435 216.5 432 218.5 432 226.5 428 229.5 428 235.5 425 245.5 423 254.5 418 256.5 416 259.5 415 261.5 413 284.5 408 291.5 403 296.5 401 298.5 399 303.5 397 305.5 395 312.5 392 314.5 390 321.5 387 327.5 383 329.5 383 332.5 381 337.5 380 338.5 379 345.5 378 346.5 377 366.5 371 368 369.5 369 366.5 371 364.5 370 362.5 369 340.5 370 339.5 370 335.5 371 334.5 372 325.5 374 322.5 376 315.5 384 303.5 392 295.5 401 279.5 411.5 272 417.5 269 419.5 266 422.5 265 426.5 261 431.5 258 443 245.5 446 239.5 447 227.5 448 226.5 448 221.5 449 220.5 449 214.5 450 213.5 451.5 201 462.5 196 467.5 195 470.5 193 478.5 191 481.5 189 486.5 188 487.5 187 491.5 187 492.5 186 498.5 185 506.5 182 510.5 182 511.5 181 541.5 180 542.5 179 561.5 179 562.5 178 570.5 178 571.5 177 584.5 176 585.5 175 590.5 175 591.5 174 623.5 174 624.5 175 631.5 175 632.5 174 641.5 174 642.5 173 649.5 173 650.5 172 656.5 172 657.5 171 668.5 170 674 162.5 675.5 159 676 173.5 677 174.5 676.5 566Z"/><path fill="#ff1300" d="M676.5 566 123.5 566 123 543.5 131 534.5 131 533.5 154 509.5 154 508.5 167 494.5 178 472.5 180 470.5 188 453.5 202.5 442 206.5 440 208.5 440 211.5 438 214.5 438 217.5 436 219.5 436 226.5 433 229.5 433 235.5 430 250.5 427 262.5 420 266.5 420 267.5 419 271.5 419 276.5 417 280.5 417 281.5 416 285.5 416 286.5 415 292.5 414 301.5 408 310.5 404 312.5 402 319.5 399 321.5 397 328.5 394 330.5 392 338.5 388 340.5 388 341.5 387 375 376.5 376 374.5 376 361.5 375 360.5 375 347.5 374 346.5 374 341.5 375 340.5 375 336.5 376 335.5 377 327.5 380 321.5 380 319.5 388 307.5 389.5 307 391 304.5 397 299.5 406 283.5 420.5 274 422.5 271 426.5 269 432.5 263 433.5 263 445 251.5 452 239.5 452 234.5 453 233.5 453 228.5 454 227.5 454 221.5 455 220.5 455 215.5 456 214.5 456 208.5 457.5 206 463.5 203 468.5 202 475.5 198 477.5 198 489.5 192 492.5 192 493.5 191 495.5 191 508.5 186 512.5 186 513.5 185 525.5 185 526.5 184 534.5 184 535.5 183 568.5 182 569.5 181 573.5 181 574.5 180 580.5 180 581.5 179 592.5 178 593.5 177 597.5 177 598.5 178 599.5 177 600.5 178 623.5 178 624.5 179 633.5 179 634.5 178 640.5 178 641.5 177 646.5 177 647.5 176 652.5 176 653.5 175 658.5 175 659.5 174 668.5 173 671 171.5 675.5 164 676 173.5 677 174.5 676.5 566Z"/><path fill="#ff0600" d="M676.5 566 123.5 566 123 543.5 123.5 543 124.5 544 144 524.5 144 523.5 168 498.5 171 494.5 190 455.5 203.5 445 208.5 443 211.5 443 217.5 440 224.5 439 228.5 437 232.5 437 238.5 434 246.5 433 247.5 432 258.5 430 261.5 428 265.5 428 270.5 426 274.5 426 275.5 425 279.5 425 284.5 423 293.5 422 298.5 420 305.5 420 306.5 419 311.5 419 312.5 418 317.5 418 318.5 417 323.5 417 324.5 416 329.5 416 330.5 415 341.5 414 342.5 413 359.5 411 373.5 402 377 396.5 377 394.5 379 391.5 379 389.5 381 386.5 381 384.5 383 380.5 382 378.5 382 374.5 381 373.5 381 360.5 380 359.5 380 345.5 379 344.5 379 342.5 380 341.5 380 337.5 381 336.5 381 333.5 382 332.5 382 329.5 384 325.5 384 323.5 388 316.5 400.5 304 403 302.5 412 286.5 422.5 280 426.5 275 427.5 275 434.5 268 435.5 268 450 253.5 453 246.5 458 239.5 459 228.5 460 227.5 460 222.5 461 221.5 461 215.5 462 214.5 462 212.5 464.5 210 471.5 208 477.5 204 483.5 201 485.5 201 491.5 197 497.5 196 500.5 194 505.5 193 511.5 190 518.5 190 519.5 189 532.5 188 533.5 187 566.5 186 567.5 185 572.5 185 573.5 184 587.5 182 588.5 181 611.5 181 612.5 182 622.5 182 623.5 183 634.5 183 635.5 182 639.5 182 640.5 181 644.5 181 645.5 180 649.5 180 650.5 179 664.5 177 665.5 176 669.5 176 672 174.5 675.5 168 676 173.5 677 174.5 676.5 566Z"/><path fill="#f90000" d="M676.5 566 123.5 566 123 543.5 124 543.5 124.5 548 167 504.5 167 503.5 173 497.5 181 481.5 181 479.5 193 456.5 206.5 447 214.5 446 222.5 443 231.5 442 238.5 439 241.5 439 242.5 438 249.5 437 250.5 436 257.5 435 258.5 434 267.5 433 272.5 431 275.5 431 276.5 430 280.5 430 285.5 428 289.5 428 294.5 426 298.5 426 301.5 429 316.5 448 326.5 447 327.5 446 333.5 446 334.5 445 339.5 445 340.5 444 345.5 444 346.5 443 378.5 443 379 435.5 378 434.5 378 412.5 380 409.5 380 407.5 382 404.5 382 402.5 384 399.5 384 397.5 386 394.5 386 392.5 391 381.5 390 376.5 386 369.5 385 344.5 384 343.5 385 342.5 385 338.5 387 334.5 387 331.5 388 330.5 389 325.5 393 318.5 398.5 315 409 304.5 417 290.5 425.5 285 429.5 280 430.5 280 443.5 267 444.5 267 454 256.5 456 251.5 458 249.5 460 244.5 464 238.5 465 229.5 466 228.5 466 222.5 467 221.5 467 217.5 468.5 216 478.5 212 493.5 202 498.5 201 508.5 196 514.5 195 515.5 194 520.5 194 521.5 193 531.5 192 532.5 191 537.5 191 538.5 190 560.5 190 561.5 189 570.5 189 571.5 188 580.5 187 581.5 186 584.5 186 589.5 184 603.5 184 604.5 185 621.5 186 622.5 187 628.5 187 629.5 188 631.5 188 632.5 187 635.5 187 636.5 186 639.5 186 640.5 185 643.5 185 644.5 184 647.5 184 652.5 182 656.5 182 657.5 181 672.5 178 675.5 173 677 174.5 676.5 566Z"/><path fill="#ec0000" d="M643.5 566 562.5 566 562.5 563 506 562.5 519.5 555 521.5 553 524.5 552 526.5 550 529.5 549 533 546.5 532.5 545 528.5 545 526.5 546 524.5 548 521.5 549 519.5 551 516.5 552 514.5 554 511.5 555 509.5 557 500.5 562 497.5 561 496.5 563 456.5 563 453.5 566 123.5 566 123 543.5 124 543.5 124.5 552 173 502.5 173 501.5 176 498.5 194 460.5 197.5 457 198.5 457 201.5 454 204.5 453 207.5 450 213.5 450 214.5 449 224.5 448 229.5 446 234.5 446 241.5 443 253.5 441 260.5 438 266.5 438 267.5 437 276.5 436 277.5 435 280.5 435 285.5 433 289.5 433 290.5 432 296.5 432 298.5 433 315 452.5 323 463.5 328 468.5 325 471.5 327 474.5 328 479.5 330.5 484 405.5 484 406 482.5 392 468.5 392 459.5 391 458.5 391 445.5 390 444.5 390 432.5 389 431.5 389 427.5 391 425.5 391 417.5 390 416.5 390 408.5 389 407.5 389 405.5 391 402.5 391 400.5 393 397.5 393 395.5 399 382.5 395 369.5 391 363.5 391 356.5 390 355.5 390 340.5 391 339.5 392 332.5 397 322.5 406.5 316 415 307.5 417 302.5 419 300.5 422 294.5 427.5 291 432 286.5 432 285.5 434.5 284 435 282.5 436.5 282 437 280.5 456 262.5 464 247.5 470 238.5 470 236.5 471 235.5 471 229.5 472 228.5 472 223.5 474.5 221 478.5 220 481.5 218 485.5 214 497.5 206 504.5 204 516.5 198 521.5 198 522.5 197 526.5 197 527.5 196 536.5 195 537.5 194 569.5 193 570.5 192 578.5 191 579.5 190 582.5 190 583.5 189 590.5 188 591.5 187 599.5 187 600.5 188 607.5 188 608.5 189 609.5 188 610.5 189 614.5 189 619.5 191 620.5 190 621.5 191 625.5 191 626.5 192 632.5 192 633.5 191 640.5 190 647.5 187 650.5 187 651.5 186 654.5 186 655.5 185 666.5 183 667.5 182 670.5 182 675 178.5 676.5 174 677 553.5 676 554.5 675.5 563 674.5 562 673.5 563 645.5 563 643.5 566Z"/><path fill="#df0000" d="M601.5 554 598.5 554 593.5 551 591.5 551 588.5 549 581.5 547 578.5 545 576.5 545 573.5 543 566.5 541 553.5 535 551.5 535 540.5 528 535.5 526 532.5 526 531.5 525 520.5 524 503.5 535 501.5 535 495.5 531 488.5 528 486.5 526 479.5 523 477.5 521 470.5 518 468.5 516 460.5 512 456.5 511 449.5 506 445.5 505 433 492.5 433 491.5 419 477.5 419 476.5 403 460.5 403 456.5 402 455.5 402 442.5 401 441.5 401 432.5 404 429.5 404 421.5 403 420.5 403 412.5 402 411.5 401 396.5 406 385.5 407 380.5 404 374.5 403 369.5 398 359.5 396 357.5 396 354.5 395 353.5 395 341.5 396 340.5 396 337.5 400 327.5 406.5 324 420 311.5 421 308.5 423 306.5 425 301.5 428 298.5 428 297.5 432.5 295 441 283.5 460 265.5 463 259.5 465 257.5 468 250.5 476 238.5 478 227.5 481.5 226 499.5 211 501.5 211 518.5 202 522.5 202 527.5 200 535.5 199 536.5 198 544.5 198 545.5 197 566.5 197 567.5 196 572.5 196 573.5 195 580.5 194 584.5 192 591.5 191 592.5 190 603.5 191 604.5 192 610.5 192 611.5 193 614.5 193 615.5 194 622.5 195 623.5 196 633.5 196 634.5 195 637.5 195 656.5 188 659.5 188 667.5 185 673.5 184 676 181.5 676.5 174 677 533.5 676 534.5 676 543.5 673.5 544 665.5 550 663.5 549 649.5 548 648.5 547 642.5 547 641.5 546 627.5 545 626.5 544 617.5 544 615.5 546 612.5 547 610.5 549 601.5 554ZM283.5 566 123.5 566 123 543.5 124 543.5 124 551.5 125.5 555 160.5 520 161.5 520 165 516.5 165 515.5 172 508.5 172 507.5 180 498.5 180 496.5 184 489.5 184 487.5 187 482.5 187 480.5 196 462.5 199.5 459 202.5 458 207.5 454 210.5 454 211.5 453 219.5 453 220.5 452 225.5 452 226.5 451 232.5 451 233.5 450 237.5 450 245.5 447 252.5 446 259.5 443 276.5 441 281.5 439 285.5 439 286.5 438 293.5 437 297.5 439 300 441.5 300 442.5 305 447.5 305 448.5 316 461.5 316 462.5 309 469.5 305 475.5 304 480.5 306 483.5 306 485.5 309 491.5 310 496.5 312 499.5 313 504.5 315 507.5 315 509.5 317 512.5 318 517.5 321 523.5 321 525.5 323 528.5 324 533.5 326 536.5 325 537.5 326 540.5 322.5 544 321.5 544 298.5 562 296.5 563 285.5 563 283.5 566Z"/><path fill="#d20000" d="M655.5 537 653.5 537 652.5 536 646.5 536 645.5 535 638.5 535 637.5 534 618.5 534 617.5 533 611.5 533 610.5 532 602.5 537 597.5 536 584.5 529 582.5 529 579.5 527 577.5 527 566.5 522 560.5 517 544.5 509 542.5 509 538.5 507 533.5 507 532.5 506 527.5 506 526.5 505 521.5 505 520.5 504 515.5 504 514.5 503 509.5 505 505.5 508 494.5 503 492.5 501 484.5 497 482.5 497 469.5 492 448.5 478 443.5 477 439.5 475 435.5 475 426 464.5 413 452.5 413 439.5 412 437.5 417 432.5 416 416.5 415 415.5 415 407.5 414 406.5 414 398.5 413 397.5 413 386.5 415 383.5 415 381.5 411 371.5 411 369.5 409 366.5 409 364.5 405 356.5 400 349.5 400 342.5 404 331.5 411.5 328 425 315.5 430 305.5 433 302.5 433 301.5 437 298.5 443 289.5 464 268.5 467 262.5 469 260.5 471 255.5 473 253.5 475 248.5 483 236.5 483 233.5 503.5 215 510.5 212 512.5 210 520.5 206 535.5 203 539.5 201 571.5 200 572.5 199 582.5 197 589.5 194 592.5 194 593.5 193 595.5 193 596.5 194 601.5 194 602.5 195 606.5 195 607.5 196 611.5 196 622.5 200 634.5 200 661.5 190 664.5 190 671.5 187 674.5 187 676 185.5 676.5 174 677 328.5 676 329.5 676 331.5 677 332.5 677 493.5 676.5 494 675.5 493 673.5 495 667.5 496 667 500.5 668 501.5 668 511.5 677 511.5 677 533.5 676 533.5 675.5 531 674.5 532 665.5 533 664.5 534 659.5 534 655.5 537ZM672 330.5 672 327.5 670.5 327 670 329.5 671.5 331 672 330.5ZM283.5 566 123.5 566 123 543.5 124 543.5 124 551.5 125 552.5 125.5 558 143.5 540 144.5 540 156.5 528 157.5 528 178 506.5 184 497.5 184 495.5 186 492.5 188 485.5 198 464.5 208.5 457 217.5 457 218.5 456 236.5 455 237.5 454 240.5 454 244.5 452 251.5 451 262.5 447 268.5 447 269.5 446 275.5 446 276.5 445 280.5 445 281.5 444 285.5 444 286.5 443 291.5 443 297.5 446 305 455.5 290 471.5 287 477.5 285 479.5 282 486.5 285 492.5 286 497.5 288 500.5 289 505.5 291 508.5 291 510.5 288 517.5 287 528.5 296 547.5 284.5 556 282.5 556 265 562.5 284.5 563 285 563.5 283.5 566Z"/><path fill="#c60000" d="M596.5 502 566.5 502 544.5 491 539.5 491 538.5 490 533.5 490 532.5 489 529.5 489 524.5 487 513.5 486 506.5 482 503.5 482 502.5 481 491.5 478 483.5 474 468.5 460 465.5 459 452.5 450 449.5 449 448 447.5 443 429.5 449.5 425 456.5 418 460 418.5 459 410.5 458 409.5 459 404.5 469 391.5 471 387.5 468.5 387 460.5 390 450.5 392 443 366.5 438.5 364 426 351.5 426 347.5 429 340.5 430 334.5 431 333.5 431 328.5 432 327.5 432 325.5 438 315.5 442.5 310 444.5 310 457.5 305 460 302.5 467 288.5 480 275.5 481 272.5 483 270.5 484 266.5 483 265.5 482 258.5 481 257.5 481 252.5 490 237.5 503.5 224 509.5 221 515.5 216 525.5 211 528.5 211 532.5 209 536.5 209 541.5 207 570.5 206 577.5 203 581.5 203 589.5 200 606.5 200 607.5 201 610.5 201 620.5 205 623.5 205 624.5 206 631.5 206 632.5 205 642.5 203 647.5 200 649.5 200 652.5 198 654.5 198 664.5 194 670.5 195 675.5 193 676 203.5 677 204.5 677 305.5 676 306.5 676 316.5 672.5 317 668.5 315 665.5 315 661.5 317 660.5 316 658.5 316 655 320.5 655 324.5 666.5 337 673.5 341 676 343.5 676 353.5 677 354.5 677 476.5 676 477.5 676 481.5 674.5 483 672.5 483 668.5 481 665.5 481 660.5 484 657.5 484 656.5 485 640.5 486 639.5 487 632.5 488 628.5 490 624.5 490 608.5 501 598.5 500 596.5 502ZM224.5 566 132.5 566 133 562.5 131 561.5 145.5 547 149.5 545 164.5 531 165.5 531 188 506.5 190 503.5 190 501.5 192 498.5 194 491.5 196 488.5 196 486.5 199.5 481 202.5 480 219.5 469 228.5 468 248 493.5 255 504.5 253 508.5 253 526.5 230 562.5 225.5 563 224.5 566Z"/><path fill="#b90000" d="M602.5 488 585.5 486 584.5 485 579.5 485 578.5 484 572.5 484 571.5 483 554.5 483 546.5 479 542.5 479 541.5 478 536.5 477 535.5 476 532.5 476 521.5 472 516.5 472 512.5 469 502.5 465 493.5 456 492.5 456 474 437.5 473 435.5 473 431.5 472 430.5 472 426.5 471 425.5 471 421.5 470 420.5 470 416.5 469 415.5 469 410.5 468 409.5 468 407.5 469 406.5 469 404.5 478 393.5 479 390.5 474.5 385 467 386.5 465 381.5 465 378.5 463 374.5 463 371.5 461 367.5 460 359.5 476.5 351 478.5 349 487.5 345 489.5 343 496.5 340 501.5 334 511.5 331 514.5 329 516.5 329 521.5 326 523.5 326 537 319.5 524 292.5 507 285.5 506 280.5 504 276.5 504 273.5 502 269.5 502 266.5 501 265.5 498 250.5 497 249.5 498 245.5 504.5 238 508.5 236 523.5 224 531.5 220 534.5 220 539.5 218 548.5 218 549.5 217 556.5 217 557.5 216 566.5 216 571.5 214 576.5 214 577.5 213 581.5 213 589.5 210 595.5 210 596.5 209 609.5 209 610.5 210 613.5 210 623.5 214 628.5 214 629.5 213 636.5 212 640.5 210 647.5 209 650.5 207 652.5 207 655.5 205 657.5 205 661.5 203 664.5 203 671.5 208 675.5 208 676.5 204 677 305.5 676 305.5 676 299.5 673.5 298 665.5 301 648.5 301 648 302.5 649 303.5 651 314.5 646 326.5 649 331.5 650.5 332 657 338.5 657 339.5 670 352.5 671.5 355 675.5 357 676 354.5 677 354.5 677 476.5 676 476.5 675.5 474 665.5 472 664 470.5 665 464.5 667 460.5 667 451.5 666 450.5 666 442.5 665 441.5 664 425.5 662 421.5 662 418.5 661 417.5 661 414.5 659 409.5 659 390.5 657.5 390 650.5 393 647.5 393 644 397.5 644 403.5 645 405.5 644 406.5 643 417.5 642 418.5 641 428.5 640 429.5 640 437.5 642 442.5 642 445.5 644 450.5 644 454.5 645 455.5 647 465.5 645.5 467 642.5 467 641.5 468 635.5 469 631.5 471 628.5 471 624.5 473 621.5 473 611.5 480 602.5 488ZM184.5 551 168 550.5 175 545.5 175 544.5 205 512.5 208 506.5 208 504.5 212.5 501 216.5 499 218.5 499 227 509.5 227 517.5 225 521.5 215 536.5 210.5 541 184.5 551ZM187.5 566 162.5 566 161 563.5 188.5 563 189 564.5 187.5 566Z"/><path fill="#ac0000" d="M595.5 475 586.5 474 585.5 473 580.5 473 579.5 472 574.5 472 573.5 471 561.5 470 560.5 469 555.5 469 551.5 467 543.5 467 540.5 465 538.5 465 519.5 458 509.5 457 489 437.5 489 436.5 482 428.5 478 407.5 485 398.5 485 395.5 480 388.5 499 359.5 521.5 336 532.5 333 535.5 331 537.5 331 541.5 329 546.5 330 550 326.5 554 319.5 557 316.5 556.5 315 551.5 312 546 306.5 540 297.5 539 294.5 533 286.5 529 277.5 523 273.5 522 267.5 520 263.5 520 260.5 515 247.5 515 244.5 534.5 230 540.5 229 541.5 228 560.5 227 565.5 225 570.5 225 571.5 224 575.5 224 576.5 223 580.5 223 581.5 222 586.5 222 590.5 220 602.5 219 603.5 218 611.5 218 612.5 219 615.5 219 619.5 221 625.5 222 633.5 219 640.5 218 644.5 216 651.5 215 658.5 212 662.5 212 665.5 215 672.5 219 676 223.5 676 237.5 677 238.5 677 275.5 676 276.5 676 283.5 673.5 286 635.5 286 633 289.5 633 293.5 636 297.5 638 307.5 639 308.5 639 312.5 641 317.5 641 322.5 638 329.5 639 332.5 664 358.5 664 359.5 672 367.5 672 368.5 659.5 372 658.5 373 655.5 373 648.5 376 645.5 376 641.5 378 639.5 378 636 381.5 634 386.5 630 392.5 630 403.5 631 404.5 631 415.5 632 416.5 632 418.5 631 419.5 629 436.5 630 437.5 630 440.5 631 441.5 633 451.5 631.5 453 628.5 453 624.5 455 618.5 456 611.5 461 595.5 475Z"/><path fill="#9f0000" d="M588.5 462 586.5 461 581.5 461 580.5 460 575.5 460 574.5 459 562.5 458 551.5 453 549.5 454 535.5 454 532.5 452 530.5 452 523.5 449 515.5 448 500 432.5 497 427.5 490 419.5 488 407.5 491 404.5 492 401.5 489 398.5 489 397.5 499 382.5 539.5 339 546.5 338 558.5 345 561 344.5 561 333.5 566 323.5 577 308.5 556 293.5 553 287.5 540 268.5 539 262.5 538 261.5 533 245.5 540.5 239 542.5 239 543.5 238 565.5 238 575.5 233 580.5 233 581.5 232 590.5 231 595.5 229 602.5 229 603.5 228 610.5 228 611.5 227 614.5 227 619.5 229 625.5 229 626.5 228 633.5 227 637.5 225 644.5 224 645.5 223 656.5 224 661.5 226 669 233.5 675.5 246 676 238.5 677 238.5 677 275.5 676 275.5 675.5 271 668.5 277 643.5 277 642.5 278 625.5 277 624 279.5 624 281.5 619 291.5 618 296.5 623 305.5 625 307.5 627 312.5 629 314.5 629 317.5 631 322.5 631 326.5 632 327.5 630 334.5 631 336.5 632.5 337 634 339.5 646 351.5 650 357.5 646.5 359 643.5 359 636.5 362 630.5 363 623 374.5 622 377.5 620 379.5 619 382.5 617 384.5 615 388.5 615 392.5 616 393.5 616 404.5 617 405.5 617 415.5 618 416.5 618 426.5 619 427.5 618 435.5 619 437.5 617.5 439 615.5 439 611.5 443 610.5 443 588.5 462Z"/><path fill="#930000" d="M583.5 448 576.5 448 575.5 447 566.5 446 554.5 440 527.5 441 523.5 439 521.5 439 515 432.5 512 427.5 498 410.5 499 405.5 509.5 394 510.5 394 515.5 389 516.5 389 540.5 369 541.5 369 551.5 360 568.5 360 570.5 362 576.5 365 578 364.5 578 350.5 579 349.5 579 335.5 580 334.5 580 330.5 584 324.5 590 311.5 592 309.5 596 301.5 565 278.5 556 263.5 555 257.5 552 249.5 568.5 249 569.5 250 582.5 242 590.5 241 595.5 239 601.5 239 602.5 238 622.5 237 627.5 235 629.5 236 633.5 236 634.5 237 638.5 237 639.5 238 643.5 238 644.5 239 648.5 239 649.5 240 653.5 240 654.5 241 658.5 241 662 243.5 671 261.5 669.5 263 664.5 268 643.5 269 642.5 270 634.5 270 633.5 269 615.5 269 613 274.5 613 276.5 610 281.5 610 283.5 607 288.5 607 290.5 604 295.5 603 299.5 622 332.5 622 338.5 628 344.5 628 346.5 622.5 348 620 350.5 619 353.5 617 355.5 616 358.5 614 360.5 613 363.5 611 365.5 610 368.5 608 370.5 607 373.5 601 382.5 601 392.5 602 393.5 602 404.5 603 405.5 603 410.5 602 411.5 602 423.5 601 424.5 600 432.5 597.5 436 596.5 436 583.5 448ZM676.5 246 676.5 238 676.5 246Z"/><path fill="#860000" d="M599.5 275 577.5 266 574.5 264 573 261.5 578.5 259 585.5 254 590.5 252 592.5 250 600.5 249 601.5 248 608.5 248 609.5 247 611.5 248 624.5 249 625.5 250 631.5 250 632.5 251 637.5 251 638.5 252 646.5 253 653 260.5 635.5 262 634.5 261 609.5 261 608.5 260 606.5 260 601 271.5 601 273.5 599.5 275ZM598.5 341 598 330.5 599 328.5 600.5 328 603 332.5 598.5 341ZM597.5 343 597.5 341 597.5 343ZM576.5 435 573.5 435 554.5 426 550.5 426 549.5 427 540.5 427 539 425.5 537 421.5 537 419.5 535 416.5 539 406.5 563.5 387 584 387.5 582 415.5 581 416.5 581 419.5 580 420.5 579 427.5 578 428.5 578 432.5 576.5 435Z"/><path fill="#fff" d="M123 53 L354 53 L353.8 56.1 L350.7 59.3 L347.5 63.5 L342.2 65.5 L337 68.7 L332.8 72.9 L326.5 76 L320.2 80.3 L313.9 85.5 L307.6 89.7 L302.3 91.8 L297.1 93.9 L292.9 98.1 L288.7 102.3 L286.1 104.4 L286.1 110.7 L294 110.7 L294 106.5 L310.7 106.5 L310.7 118.8 L304.3 118.8 L304.3 148.1 L307.9 148.9 L307.9 156.6 L301 157 L301 161.1 L297 161.5 L296.2 165.1 L293 166.7 L289.7 170.8 L289.5 190 L285 205 L283 215 L276 222.5 L256 225 L242 226 L224 228.5 L215 230 L200 240 L188 250.6 L176.6 266.4 L165.3 282.3 L163.7 290 L157.9 298.7 L149.1 304.6 L152 325 L152 333.7 L149.1 360 L147.7 371.6 L140.4 392 L137.5 406.5 L138.9 421 L141.8 438.6 L138.9 450.2 L128.7 461.9 L124.4 464.8 L123 465Z"/><path fill="none" stroke="#000" stroke-width="1" shape-rendering="crispEdges" d="M354.5 55 L351.5 60 L349.2 67.5 L347 66 L344 68.3 L344.7 72.8 L348.5 73.5 L350.7 70.5 L354.5 73.5 L359.7 69 L363.5 72 L368 68.2 L371.8 69 L377 66.8 L381.5 64.5 L383 60 L385.2 55M606 55 L608 55.8 L630.5 57.2 L641 62.5 L656 62.5 L668 63.2 L672.5 67 L676 72M321 80 L320.6 80.7 L315 89.1 L310.5 94.7 L312.7 97 L307.1 101.5 L310.5 103.7 L314.4 106 L314.8 116.2 L317.2 127.5 L322 133 L328.5 130.7 L335 125.9 L341.5 114.6 L346.3 100 L350 93 L359 87.8 L375.5 84 L389 84.8 L404 89.2 L417.5 93 L425 92.2 L431.8 87.8 L432.5 78 L425 69 L417.5 64.5 L419 58.5 L425 56.2 L426 55M567 56 L567.3 56.3 L574.1 63.1 L601.3 71 L621.7 76.6 L639.8 81.2 L657.9 85.7 L676 89.5M336.5 73.5 L337.8 76 L337.5 81 L336.3 84 L335.3 80 L335.5 75 L336.5 73.5M305.9 100 L309.1 116.2 L306.7 132.3 L309.9 148.5 L306.7 164.7 L301 180.9 L297 199.4 L301.5 209.6 L309.4 199.4 L312.3 187.3 L320.4 176 L326.9 171.2 L333.4 169.5 L344.7 158.2 L356 148.5 L362.5 138.8 L367.3 136.4 L380.3 138.8 L389 143 L398.1 136.4 L407.2 128.4 L420.8 122.8 L434.3 117.1 L443.4 108 L450.5 92.5 L455.8 75 L461 62.8 L466.3 59.3 L483.8 60.1 L496 58.4 L501.3 56M513.5 56 L515.3 63.6 L524 68.9 L538 75 L552 82 L566 85.5 L578.6 86.8 L601.3 90.2 L621.7 92.5 L646.6 92.5 L676 95M288 214 L290.3 229.5 L293.2 232 L297.1 230.5 L300.4 222 L307.2 226.6 L320.8 215.3 L332 199.4 L341.1 183.6 L348 179 L350.2 183.6 L352.5 201.7 L358.1 206.2 L361 207.5 L367.5 203.5 L377.7 191.9 L387.9 180.2 L393.7 172.9 L402.6 162.4 L407.2 151.1 L414 143.2 L425.3 138.6 L438.9 134.1 L452.4 126.2 L459.2 117.1 L462.8 110 L475 104.8 L492.5 99.5 L510 99.9 L527.5 104.8 L541 104.5 L553.8 105.6 L566 109.1 L578.6 108.3 L601.3 102.7 L623.9 100.4 L646.6 99.3 L676 99.3M286.4 215 L284.5 222.8 L278.6 226.6 L272.8 229.5 L270.9 234.4 L268 243.1 L263.1 250.9 L256.3 256.7 L252 261 L256 252 L258.3 243.1 L258.3 237.8 L254.4 236.3 L251.5 238.3 L251.5 247 L247 253 L240 258 L234.5 262 L227 268 L225.5 274 L230 283 L240.5 288.2 L248 287.5 L255.5 278.5 L269 271 L282.5 262 L287 256 L288.5 262 L282.5 269.5 L269 278.5 L260 287.5 L248 299.5 L237.5 310 L224 319 L215 323.5 L209 325 L200 326.5 L194 328 L191 331 L186.5 325 L191 322 L194 302.5 L198.5 284.5 L190.8 299.4 L179.5 310.7 L171.4 322 L166.5 344.7 L160.1 370.6 L156.8 393.3 L153.6 415.9 L148.7 441.8 L140.6 458 L127.7 466.1 L124 466.5M325 229 L329 220 L331 217 L330.5 221 L327 227.5 L325 229M124 500.3 L134.2 490.9 L148.3 479.1 L156.6 460.2 L161.3 438.9 L164 425 L165.3 419 L172.1 403.2 L181.1 389.6 L192.5 367 L199.2 357.9 L212.8 351.1 L221.9 344.3 L233.2 335.3 L246.8 328.5 L260.4 319.4 L271.7 310.4 L276.5 306.4 L286.2 300.7 L291.1 301.5 L310.6 296.6 L315.5 290.1 L310.6 282 L299.2 279.6 L286.2 282.8 L286.2 277.1 L294.4 268.2 L305.7 267.7 L318.4 273.5 L322 265.7 L330.1 254.4 L341.5 244.6 L355.8 232.6 L358.6 230 L367.5 222.4 L379.1 210.8 L389.3 196.2 L398.1 181.7 L406.1 172.2 L409.4 169.2 L420.8 160.1 L436.6 153.4 L454.7 147.7 L475.1 140.9 L486.4 130.7 L500 126.2 L518.1 129.6 L538.5 128.4 L562.8 128.7 L578.6 124.2 L601.3 121.9 L628.5 120.8 L642 117.4 L657.9 109.5 L676 105M124 519.2 L129.4 512.1 L143.6 495.6 L155.4 476.7 L163.7 455.4 L168.4 441.3 L176.7 434.2 L180 425 L190.2 414.5 L206 403.2 L226.4 387.4 L237.7 373.8 L242.3 360.2 L246.8 353.4 L264.9 346.6 L278.5 339.8 L302.5 330 L318.7 321 L335 312.9 L346.4 301.5 L351.2 283.6 L349.6 272.2 L347.2 252.7 L352.9 244.6 L364.6 237 L379.1 225.4 L390.8 212.2 L401 197.7 L412.6 184.6 L425.8 175.8 L438.9 170 L454.7 167 L479.6 159 L497.7 153.4 L513 152 L560 148.8 L578.6 144.6 L601.3 141.2 L623.9 139.6 L642 138.9 L651.1 128.7 L660.2 118.5 L676 112.9M124 528.7 L138.9 509.8 L157.8 488.5 L172 464.9 L181.4 446 L195.6 434.2 L212 424 L226.4 416.8 L246.8 405.5 L264.9 394.2 L283 382.8 L302.6 371.5 L325.3 362.5 L347.9 356.8 L357 342.1 L360.4 321.7 L366 308.1 L377.4 290 L380.5 285.2 L388.6 270.6 L393.5 246.2 L395.2 235.6 L405.4 221 L417 206.4 L431.6 193.3 L444.7 186 L450 182.6 L478.2 176.9 L506.5 171.3 L541 171 L563 169.9 L590 167.2 L623.9 164.9 L646.6 164.9 L667 162.7 L669.2 151.4 L676 148M409.7 253.8 L412 249 L420 244 L428 240 L431 242 L426 247 L416 254 L411 256 L409.7 253.8M676 188.2 L653.4 195.3 L636.4 202.4 L629.5 203.7 L626.6 203.8 L608.2 198.1 L594.1 195.3 L571.5 202.4 L540.4 203.8 L520.6 209.4 L503.7 219.3 L486.7 236.3 L478.2 250.4 L467 270.2 L450 287.1 L447.5 290 L434 308.1 L424.9 324 L423.8 334.2 L414 331 L406.8 334.2 L403.4 344.3 L411.3 357.9 L415.8 369.2 L420.4 382.8 L434 391.9 L447.2 394.6 L456.6 403 L454 410 L447 417 L432 428 L420.2 440.3 L420.2 447.9 L429 454.2 L444.2 456.7 L451.5 461.3 L481.6 480.6 L507.4 489.2 L546.1 495.7 L572 508.6 L580 514.9 L597.2 523.5 L610.9 526 L631.5 527.8 L648.6 527.8 L662.3 526 L676 523M676 484 L673.5 485.7 L671 488.3 L657.2 491.7 L638.3 493.4 L624.6 496 L617.7 501.2 L604 508.9 L607.4 514.9 L621.2 519.2 L641.7 520.4 L655.5 519.7 L676 520.5M676 323.5 L670.2 321.9 L667.3 321.1 L663 319.7 L660.8 319.3 L657.1 322.2 L659.3 324.8 L661.5 328.4 L664.4 330.6 L668.8 333.5 L676 338.5M124.7 561.7 L143.6 542.8 L167.2 521.6 L183.8 502.7 L193.2 479.1 L200.3 464.9 L209.8 459 L221.6 459 L238.1 457.8 L261.7 450.7 L285.4 447.2 L290 447 L297.2 450.7 L285.4 462.5 L271.2 481.4 L261.7 507.4 L261.7 528.7 L266.5 542.8 L275.9 551.1 L261.7 555.8 L245.2 561.7 L240 563"/><rect x="300.5" y="242" width="1.5" height="1.5" fill="#000"/><rect x="431" y="342.5" width="1.5" height="1.5" fill="#000"/><rect x="318.0" y="127.0" width="8" height="12" fill="#fff"/><text x="319.0" y="137.3" font-size="11.5" textLength="6" lengthAdjust="spacingAndGlyphs">5</text><rect x="380.5" y="137.5" width="17" height="12" fill="#fff"/><text x="381.5" y="147.8" font-size="11.5" textLength="15" lengthAdjust="spacingAndGlyphs">5.5</text><rect x="537.0" y="98.5" width="8" height="12" fill="#fff"/><text x="538.0" y="108.8" font-size="11.5" textLength="6" lengthAdjust="spacingAndGlyphs">6</text><rect x="356.8" y="201.5" width="8" height="12" fill="#fff"/><text x="357.8" y="211.8" font-size="11.5" textLength="6" lengthAdjust="spacingAndGlyphs">6</text><rect x="247.5" y="255.0" width="8" height="12" fill="#fff"/><text x="248.5" y="265.3" font-size="11.5" textLength="6" lengthAdjust="spacingAndGlyphs">6</text><rect x="205.0" y="319.0" width="8" height="12" fill="#fff"/><text x="206.0" y="329.3" font-size="11.5" textLength="6" lengthAdjust="spacingAndGlyphs">6</text><rect x="554.5" y="123.0" width="17" height="12" fill="#fff"/><text x="555.5" y="133.3" font-size="11.5" textLength="15" lengthAdjust="spacingAndGlyphs">6.5</text><rect x="310.0" y="267.5" width="17" height="12" fill="#fff"/><text x="311.0" y="277.8" font-size="11.5" textLength="15" lengthAdjust="spacingAndGlyphs">6.5</text><rect x="204.0" y="345.5" width="17" height="12" fill="#fff"/><text x="205.0" y="355.8" font-size="11.5" textLength="15" lengthAdjust="spacingAndGlyphs">6.5</text><rect x="509.0" y="146.0" width="8" height="12" fill="#fff"/><text x="510.0" y="156.3" font-size="11.5" textLength="6" lengthAdjust="spacingAndGlyphs">7</text><rect x="532.5" y="165.0" width="17" height="12" fill="#fff"/><text x="533.5" y="175.3" font-size="11.5" textLength="15" lengthAdjust="spacingAndGlyphs">7.5</text><rect x="625.5" y="197.7" width="8" height="12" fill="#fff"/><text x="626.5" y="208.0" font-size="11.5" textLength="6" lengthAdjust="spacingAndGlyphs">8</text><rect x="410.0" y="325.0" width="8" height="12" fill="#fff"/><text x="411.0" y="335.3" font-size="11.5" textLength="6" lengthAdjust="spacingAndGlyphs">8</text><rect x="286.0" y="441.0" width="8" height="12" fill="#fff"/><text x="287.0" y="451.3" font-size="11.5" textLength="6" lengthAdjust="spacingAndGlyphs">8</text><path fill="none" stroke="#000" stroke-width="3" stroke-linejoin="round" stroke-linecap="round" d="M352 55 L345.4 59.3 L332.8 68.7 L318.1 77.1 L300.2 89.7 L289.8 100.2 L280.3 109.6 L282.1 112.3 L286.2 114.8 L291 112.3 L295.9 114.8 L300.7 114 L299.1 118.8 L300.7 128.5 L298.3 144.7 L295.9 154.4 L284.6 155.2 L282.9 157.6 L287.8 164.1 L291 168.1 L287.8 173.8 L286.2 180 L287.5 189.4 L283 205.3 L280.8 216.6 L274 221.1 L255.8 223.4 L242.3 224.5 L230 225.6 L223.4 226.5 L209.8 229.5 L192.4 244 L184.6 253.7 L174.9 269.2 L163.3 282.8 L157.9 290 L152 298.7 L144.8 304.6 L142.7 310.4 L147.7 327.9 L143.3 335.2 L147.7 357 L141.8 383.2 L136 397.8 L134.6 412.3 L137.5 435.6 L134.6 447.3 L125.8 457.5 L123 460M123 144.6 L132.6 148.8 L142.1 149.2 L148.4 152.4 L165.2 152.4 L165.8 150.5 L162 145.6 L170.9 135.8 L182 143.1 L188.3 142.1 L193.6 135.1 L204.1 129.9 L214.6 127.1 L223 121 L237.7 116.4 L244 118.3 L252.4 116.4 L265.2 119.4 L277.8 124.6 L286.2 133 L290.5 142.5 L290.5 154 L284.6 155.2M123 403.6 L136 402.1M284.5 55 L282.4 69.8 L279.2 77.1 L279.8 88.7 L281.9 97 L288.7 98.1 L292.9 93.9 L298.7 87.6 L296.6 80.3 L291.9 75 L291.3 64.5 L291.9 55M326.5 55 L330.7 59.3 L324.4 64 L319.1 61.9 L313.9 63.5 L310.2 67.7 L309.7 71.9 L316 76.6M298.7 87.6 L318.1 76.6M189.5 188.7 L198.2 190.7 L207.9 194.5 L210.8 198.4 L202.1 204.2 L201.1 214.9 L214.7 220.7 L214.7 226.5 L208.9 228.5 L193.3 233.3 L194.3 239.2 L190 243 L186.5 244 L180.7 244 L175.9 250.8 L165.2 251.8 L167.2 242.1 L173 234.3 L184.6 231.4 L186.5 224.6 L177.8 214.9 L175.9 205.2 L178.8 197.5 L189.5 188.7M182.7 257.6 L165.2 259.5 L160.4 265.3 L159.4 280.9 L167.2 273.1 L184.6 261.5"/><path d="M194.5 56V563M265.5 56V563M336.5 56V563M407.5 56V563M477.5 56V563M548.5 56V563M619.5 56V563M125 530.5H674M125 445.5H674M125 360.5H674M125 276.5H674M125 191.5H674M125 106.5H674" stroke="#b4b4b4" stroke-width="1" stroke-dasharray="2 4.5 1 5.5" fill="none"/></g><rect x="124" y="55" width="551" height="509" fill="none" stroke="#000" stroke-width="2"/><path d="M124.5 564V568M194.5 564V568M265.5 564V568M336.5 564V568M407.5 564V568M477.5 564V568M548.5 564V568M619.5 564V568M120 530.5H124M120 445.5H124M120 360.5H124M120 276.5H124M120 191.5H124M120 106.5H124" stroke="#000" stroke-width="1"/><text x="112.9" y="580" font-size="13.5" textLength="23.25" lengthAdjust="spacingAndGlyphs">28.5</text><text x="188.0" y="580" font-size="13.5" textLength="13.0" lengthAdjust="spacingAndGlyphs">29</text><text x="253.9" y="580" font-size="13.5" textLength="23.25" lengthAdjust="spacingAndGlyphs">29.5</text><text x="330.0" y="580" font-size="13.5" textLength="13.0" lengthAdjust="spacingAndGlyphs">30</text><text x="395.9" y="580" font-size="13.5" textLength="23.25" lengthAdjust="spacingAndGlyphs">30.5</text><text x="471.0" y="580" font-size="13.5" textLength="13.0" lengthAdjust="spacingAndGlyphs">31</text><text x="536.9" y="580" font-size="13.5" textLength="23.25" lengthAdjust="spacingAndGlyphs">31.5</text><text x="613.0" y="580" font-size="13.5" textLength="13.0" lengthAdjust="spacingAndGlyphs">32</text><text x="104.5" y="535.5" font-size="13.5" textLength="13.0" lengthAdjust="spacingAndGlyphs">43</text><text x="94.2" y="450.5" font-size="13.5" textLength="23.25" lengthAdjust="spacingAndGlyphs">43.5</text><text x="104.5" y="365.5" font-size="13.5" textLength="13.0" lengthAdjust="spacingAndGlyphs">44</text><text x="94.2" y="281.5" font-size="13.5" textLength="23.25" lengthAdjust="spacingAndGlyphs">44.5</text><text x="104.5" y="196.5" font-size="13.5" textLength="13.0" lengthAdjust="spacingAndGlyphs">45</text><text x="94.2" y="111.5" font-size="13.5" textLength="23.25" lengthAdjust="spacingAndGlyphs">45.5</text><text x="24" y="42" font-size="24" stroke="#fff" stroke-width="0.4" textLength="138" lengthAdjust="spacingAndGlyphs">Temperature</text><text x="179" y="42" font-size="24" stroke="#fff" stroke-width="0.4" textLength="104" lengthAdjust="spacingAndGlyphs">(Celsius).</text><text x="297.5" y="42" font-size="24" stroke="#fff" stroke-width="0.4" textLength="48.5" lengthAdjust="spacingAndGlyphs">Date</text><text x="363" y="42" font-size="24" stroke="#fff" stroke-width="0.4" textLength="134" lengthAdjust="spacingAndGlyphs">2022.03.03.</text><text x="515" y="42" font-size="24" stroke="#fff" stroke-width="0.4" textLength="48" lengthAdjust="spacingAndGlyphs">Time</text><text x="577.5" y="42" font-size="24" stroke="#fff" stroke-width="0.4" textLength="139.5" lengthAdjust="spacingAndGlyphs">00(h):00(m)</text><text x="733.5" y="42" font-size="24" stroke="#fff" stroke-width="0.4" textLength="41.5" lengthAdjust="spacingAndGlyphs">GMT</text><text x="323.5" y="605" font-size="18" stroke="#fff" stroke-width="0.3" textLength="86.5" lengthAdjust="spacingAndGlyphs">Longitude</text><text x="421" y="605" font-size="18" stroke="#fff" stroke-width="0.3" textLength="55" lengthAdjust="spacingAndGlyphs">(East)</text><g transform="translate(82 0) rotate(-90)"><text x="-384" y="0" font-size="18" stroke="#fff" stroke-width="0.3" textLength="77" lengthAdjust="spacingAndGlyphs">Latitude</text><text x="-293" y="0" font-size="18" stroke="#fff" stroke-width="0.3" textLength="57.5" lengthAdjust="spacingAndGlyphs">(North)</text></g><text x="735" y="74.0" font-size="13" textLength="29" lengthAdjust="spacingAndGlyphs">8.35</text><text x="735" y="190.0" font-size="13" textLength="29" lengthAdjust="spacingAndGlyphs">7.28</text><text x="735" y="312.0" font-size="13" textLength="29" lengthAdjust="spacingAndGlyphs">6.16</text><text x="735" y="434.0" font-size="13" textLength="29" lengthAdjust="spacingAndGlyphs">5.04</text><text x="735" y="556.0" font-size="13" textLength="29" lengthAdjust="spacingAndGlyphs">3.92</text><g font-size="19.5" fill="#222" stroke="#fff" stroke-width="0.5"><text x="145.4" y="110" textLength="15.0" lengthAdjust="spacingAndGlyphs">Z</text><text x="174.4" y="110" textLength="16.4" lengthAdjust="spacingAndGlyphs">=</text><text x="205.4" y="110" textLength="14.6" lengthAdjust="spacingAndGlyphs">2</text><text x="220.6" y="110" textLength="5.0" lengthAdjust="spacingAndGlyphs">.</text><text x="225.1" y="110" textLength="15.5" lengthAdjust="spacingAndGlyphs">5</text><text x="255.1" y="110" textLength="20.1" lengthAdjust="spacingAndGlyphs">m</text></g><rect shape-rendering="crispEdges" x="708" y="61.00" width="16" height="6.49" fill="#860000"/><rect shape-rendering="crispEdges" x="708" y="67.19" width="16" height="6.49" fill="#930000"/><rect shape-rendering="crispEdges" x="708" y="73.39" width="16" height="6.49" fill="#9f0000"/><rect shape-rendering="crispEdges" x="708" y="79.58" width="16" height="6.49" fill="#ac0000"/><rect shape-rendering="crispEdges" x="708" y="85.78" width="16" height="6.49" fill="#b90000"/><rect shape-rendering="crispEdges" x="708" y="91.97" width="16" height="6.49" fill="#c60000"/><rect shape-rendering="crispEdges" x="708" y="98.16" width="16" height="6.49" fill="#d20000"/><rect shape-rendering="crispEdges" x="708" y="104.36" width="16" height="6.49" fill="#df0000"/><rect shape-rendering="crispEdges" x="708" y="110.55" width="16" height="6.49" fill="#ec0000"/><rect shape-rendering="crispEdges" x="708" y="116.74" width="16" height="6.49" fill="#f90000"/><rect shape-rendering="crispEdges" x="708" y="122.94" width="16" height="6.49" fill="#ff0600"/><rect shape-rendering="crispEdges" x="708" y="129.13" width="16" height="6.49" fill="#ff1300"/><rect shape-rendering="crispEdges" x="708" y="135.32" width="16" height="6.49" fill="#ff2000"/><rect shape-rendering="crispEdges" x="708" y="141.52" width="16" height="6.49" fill="#ff2d00"/><rect shape-rendering="crispEdges" x="708" y="147.71" width="16" height="6.49" fill="#ff3900"/><rect shape-rendering="crispEdges" x="708" y="153.91" width="16" height="6.49" fill="#ff4600"/><rect shape-rendering="crispEdges" x="708" y="160.10" width="16" height="6.49" fill="#ff5300"/><rect shape-rendering="crispEdges" x="708" y="166.29" width="16" height="6.49" fill="#ff6000"/><rect shape-rendering="crispEdges" x="708" y="172.49" width="16" height="6.49" fill="#ff6c00"/><rect shape-rendering="crispEdges" x="708" y="178.68" width="16" height="6.49" fill="#ff7900"/><rect shape-rendering="crispEdges" x="708" y="184.88" width="16" height="6.49" fill="#ff8600"/><rect shape-rendering="crispEdges" x="708" y="191.07" width="16" height="6.49" fill="#ff9300"/><rect shape-rendering="crispEdges" x="708" y="197.26" width="16" height="6.49" fill="#ff9f00"/><rect shape-rendering="crispEdges" x="708" y="203.46" width="16" height="6.49" fill="#ffac00"/><rect shape-rendering="crispEdges" x="708" y="209.65" width="16" height="6.49" fill="#ffb900"/><rect shape-rendering="crispEdges" x="708" y="215.84" width="16" height="6.49" fill="#ffc600"/><rect shape-rendering="crispEdges" x="708" y="222.04" width="16" height="6.49" fill="#ffd200"/><rect shape-rendering="crispEdges" x="708" y="228.23" width="16" height="6.49" fill="#ffdf00"/><rect shape-rendering="crispEdges" x="708" y="234.42" width="16" height="6.49" fill="#ffec00"/><rect shape-rendering="crispEdges" x="708" y="240.62" width="16" height="6.49" fill="#fff900"/><rect shape-rendering="crispEdges" x="708" y="246.81" width="16" height="6.49" fill="#f9ff06"/><rect shape-rendering="crispEdges" x="708" y="253.01" width="16" height="6.49" fill="#ecff13"/><rect shape-rendering="crispEdges" x="708" y="259.20" width="16" height="6.49" fill="#dfff20"/><rect shape-rendering="crispEdges" x="708" y="265.39" width="16" height="6.49" fill="#d2ff2d"/><rect shape-rendering="crispEdges" x="708" y="271.59" width="16" height="6.49" fill="#c6ff39"/><rect shape-rendering="crispEdges" x="708" y="277.78" width="16" height="6.49" fill="#b9ff46"/><rect shape-rendering="crispEdges" x="708" y="283.98" width="16" height="6.49" fill="#acff53"/><rect shape-rendering="crispEdges" x="708" y="290.17" width="16" height="6.49" fill="#9fff60"/><rect shape-rendering="crispEdges" x="708" y="296.36" width="16" height="6.49" fill="#93ff6c"/><rect shape-rendering="crispEdges" x="708" y="302.56" width="16" height="6.49" fill="#86ff79"/><rect shape-rendering="crispEdges" x="708" y="308.75" width="16" height="6.49" fill="#79ff86"/><rect shape-rendering="crispEdges" x="708" y="314.94" width="16" height="6.49" fill="#6cff93"/><rect shape-rendering="crispEdges" x="708" y="321.14" width="16" height="6.49" fill="#60ff9f"/><rect shape-rendering="crispEdges" x="708" y="327.33" width="16" height="6.49" fill="#53ffac"/><rect shape-rendering="crispEdges" x="708" y="333.52" width="16" height="6.49" fill="#46ffb9"/><rect shape-rendering="crispEdges" x="708" y="339.72" width="16" height="6.49" fill="#39ffc6"/><rect shape-rendering="crispEdges" x="708" y="345.91" width="16" height="6.49" fill="#2dffd2"/><rect shape-rendering="crispEdges" x="708" y="352.11" width="16" height="6.49" fill="#20ffdf"/><rect shape-rendering="crispEdges" x="708" y="358.30" width="16" height="6.49" fill="#13ffec"/><rect shape-rendering="crispEdges" x="708" y="364.49" width="16" height="6.49" fill="#06fff9"/><rect shape-rendering="crispEdges" x="708" y="370.69" width="16" height="6.49" fill="#00f9ff"/><rect shape-rendering="crispEdges" x="708" y="376.88" width="16" height="6.49" fill="#00ecff"/><rect shape-rendering="crispEdges" x="708" y="383.07" width="16" height="6.49" fill="#00dfff"/><rect shape-rendering="crispEdges" x="708" y="389.27" width="16" height="6.49" fill="#00d2ff"/><rect shape-rendering="crispEdges" x="708" y="395.46" width="16" height="6.49" fill="#00c6ff"/><rect shape-rendering="crispEdges" x="708" y="401.66" width="16" height="6.49" fill="#00b9ff"/><rect shape-rendering="crispEdges" x="708" y="407.85" width="16" height="6.49" fill="#00acff"/><rect shape-rendering="crispEdges" x="708" y="414.04" width="16" height="6.49" fill="#009fff"/><rect shape-rendering="crispEdges" x="708" y="420.24" width="16" height="6.49" fill="#0093ff"/><rect shape-rendering="crispEdges" x="708" y="426.43" width="16" height="6.49" fill="#0086ff"/><rect shape-rendering="crispEdges" x="708" y="432.62" width="16" height="6.49" fill="#0079ff"/><rect shape-rendering="crispEdges" x="708" y="438.82" width="16" height="6.49" fill="#006cff"/><rect shape-rendering="crispEdges" x="708" y="445.01" width="16" height="6.49" fill="#0060ff"/><rect shape-rendering="crispEdges" x="708" y="451.21" width="16" height="6.49" fill="#0053ff"/><rect shape-rendering="crispEdges" x="708" y="457.40" width="16" height="6.49" fill="#0046ff"/><rect shape-rendering="crispEdges" x="708" y="463.59" width="16" height="6.49" fill="#0039ff"/><rect shape-rendering="crispEdges" x="708" y="469.79" width="16" height="6.49" fill="#002dff"/><rect shape-rendering="crispEdges" x="708" y="475.98" width="16" height="6.49" fill="#0020ff"/><rect shape-rendering="crispEdges" x="708" y="482.17" width="16" height="6.49" fill="#0013ff"/><rect shape-rendering="crispEdges" x="708" y="488.37" width="16" height="6.49" fill="#0006ff"/><rect shape-rendering="crispEdges" x="708" y="494.56" width="16" height="6.49" fill="#0000f9"/><rect shape-rendering="crispEdges" x="708" y="500.76" width="16" height="6.49" fill="#0000ec"/><rect shape-rendering="crispEdges" x="708" y="506.95" width="16" height="6.49" fill="#0000df"/><rect shape-rendering="crispEdges" x="708" y="513.14" width="16" height="6.49" fill="#0000d2"/><rect shape-rendering="crispEdges" x="708" y="519.34" width="16" height="6.49" fill="#0000c6"/><rect shape-rendering="crispEdges" x="708" y="525.53" width="16" height="6.49" fill="#0000b9"/><rect shape-rendering="crispEdges" x="708" y="531.72" width="16" height="6.49" fill="#0000ac"/><rect shape-rendering="crispEdges" x="708" y="537.92" width="16" height="6.49" fill="#00009f"/><rect shape-rendering="crispEdges" x="708" y="544.11" width="16" height="6.49" fill="#000093"/><rect shape-rendering="crispEdges" x="708" y="550.31" width="16" height="6.49" fill="#000086"/></svg></body></html>
